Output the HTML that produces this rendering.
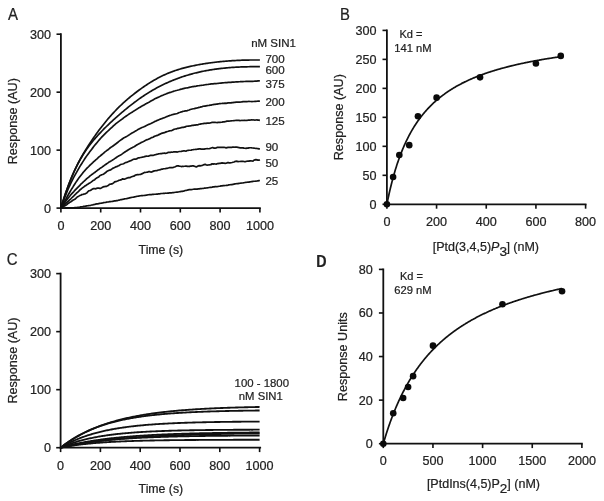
<!DOCTYPE html>
<html><head><meta charset="utf-8"><title>Figure</title>
<style>
html,body{margin:0;padding:0;background:#fff;}
body{width:604px;height:501px;overflow:hidden;font-family:"Liberation Sans",sans-serif;}
svg{display:block;filter:blur(0.35px);}
svg text{font-family:"Liberation Sans",sans-serif;}
</style></head><body>
<svg width="604" height="501" viewBox="0 0 604 501">
<rect width="604" height="501" fill="#fff"/>
<text transform="translate(8.00,20.00) scale(0.96,1)" font-size="15.6" fill="#222" stroke="#222" stroke-width="0.22">A</text>
<line x1="60.90" y1="33.30" x2="60.90" y2="209.00" stroke="#111" stroke-width="1.8"/>
<line x1="60.00" y1="208.10" x2="260.80" y2="208.10" stroke="#111" stroke-width="1.8"/>
<line x1="60.90" y1="208.10" x2="60.90" y2="212.50" stroke="#111" stroke-width="1.62"/>
<line x1="100.70" y1="208.10" x2="100.70" y2="212.50" stroke="#111" stroke-width="1.62"/>
<line x1="140.50" y1="208.10" x2="140.50" y2="212.50" stroke="#111" stroke-width="1.62"/>
<line x1="180.30" y1="208.10" x2="180.30" y2="212.50" stroke="#111" stroke-width="1.62"/>
<line x1="220.10" y1="208.10" x2="220.10" y2="212.50" stroke="#111" stroke-width="1.62"/>
<line x1="259.90" y1="208.10" x2="259.90" y2="212.50" stroke="#111" stroke-width="1.62"/>
<line x1="56.50" y1="208.10" x2="60.90" y2="208.10" stroke="#111" stroke-width="1.62"/>
<line x1="56.50" y1="150.13" x2="60.90" y2="150.13" stroke="#111" stroke-width="1.62"/>
<line x1="56.50" y1="92.17" x2="60.90" y2="92.17" stroke="#111" stroke-width="1.62"/>
<line x1="56.50" y1="34.20" x2="60.90" y2="34.20" stroke="#111" stroke-width="1.62"/>
<text x="60.90" y="230.20" font-size="12.6" text-anchor="middle" fill="#222" stroke="#222" stroke-width="0.22" >0</text>
<text x="100.70" y="230.20" font-size="12.6" text-anchor="middle" fill="#222" stroke="#222" stroke-width="0.22" >200</text>
<text x="140.50" y="230.20" font-size="12.6" text-anchor="middle" fill="#222" stroke="#222" stroke-width="0.22" >400</text>
<text x="180.30" y="230.20" font-size="12.6" text-anchor="middle" fill="#222" stroke="#222" stroke-width="0.22" >600</text>
<text x="220.10" y="230.20" font-size="12.6" text-anchor="middle" fill="#222" stroke="#222" stroke-width="0.22" >800</text>
<text x="259.90" y="230.20" font-size="12.6" text-anchor="middle" fill="#222" stroke="#222" stroke-width="0.22" >1000</text>
<text x="51.00" y="212.55" font-size="12.6" text-anchor="end" fill="#222" stroke="#222" stroke-width="0.22" >0</text>
<text x="51.00" y="154.58" font-size="12.6" text-anchor="end" fill="#222" stroke="#222" stroke-width="0.22" >100</text>
<text x="51.00" y="96.62" font-size="12.6" text-anchor="end" fill="#222" stroke="#222" stroke-width="0.22" >200</text>
<text x="51.00" y="38.65" font-size="12.6" text-anchor="end" fill="#222" stroke="#222" stroke-width="0.22" >300</text>
<text x="160.90" y="253.80" font-size="12.3" text-anchor="middle" fill="#222" stroke="#222" stroke-width="0.22" >Time (s)</text>
<text transform="translate(17.00,121.20) rotate(-90)" font-size="12.6" text-anchor="middle" fill="#222" stroke="#222" stroke-width="0.22">Response (AU)</text>
<path d="M60.90,208.10 L61.89,204.79 L62.89,201.58 L63.88,198.48 L64.88,195.47 L65.88,192.56 L66.87,189.74 L67.86,187.01 L68.86,184.36 L69.86,181.80 L70.85,179.32 L71.84,176.92 L72.84,174.59 L73.83,172.33 L74.83,170.14 L75.83,168.01 L76.82,165.95 L77.81,163.95 L78.81,162.00 L79.80,160.11 L80.80,158.26 L81.80,156.47 L82.79,154.72 L83.78,153.01 L84.78,151.34 L85.77,149.70 L86.77,148.10 L87.77,146.52 L88.76,144.97 L89.75,143.45 L90.75,141.95 L91.75,140.46 L92.74,139.00 L93.73,137.55 L94.73,136.13 L95.72,134.72 L96.72,133.34 L97.72,131.97 L98.71,130.62 L99.70,129.29 L100.70,127.98 L101.69,126.69 L102.69,125.42 L103.69,124.16 L104.68,122.92 L105.67,121.70 L106.67,120.50 L107.66,119.32 L108.66,118.15 L109.66,117.01 L110.65,115.87 L111.64,114.76 L112.64,113.67 L113.63,112.59 L114.63,111.52 L115.62,110.48 L116.62,109.45 L117.61,108.44 L118.61,107.44 L119.60,106.46 L120.60,105.50 L121.59,104.55 L122.59,103.62 L123.58,102.71 L124.58,101.80 L125.57,100.92 L126.57,100.04 L127.56,99.18 L128.56,98.34 L129.55,97.50 L130.55,96.68 L131.54,95.87 L132.54,95.08 L133.53,94.29 L134.53,93.52 L135.53,92.75 L136.52,92.00 L137.51,91.25 L138.51,90.52 L139.50,89.79 L140.50,89.07 L141.50,88.36 L142.49,87.66 L143.48,86.97 L144.48,86.29 L145.47,85.61 L146.47,84.95 L147.47,84.30 L148.46,83.65 L149.45,83.02 L150.45,82.40 L151.44,81.78 L152.44,81.18 L153.44,80.59 L154.43,80.01 L155.42,79.44 L156.42,78.89 L157.41,78.34 L158.41,77.81 L159.41,77.29 L160.40,76.78 L161.39,76.29 L162.39,75.80 L163.38,75.33 L164.38,74.88 L165.38,74.43 L166.37,73.99 L167.36,73.57 L168.36,73.15 L169.35,72.75 L170.35,72.36 L171.34,71.98 L172.34,71.61 L173.33,71.24 L174.33,70.89 L175.32,70.55 L176.32,70.22 L177.31,69.89 L178.31,69.58 L179.30,69.27 L180.30,68.97 L181.29,68.68 L182.29,68.40 L183.28,68.13 L184.28,67.86 L185.27,67.60 L186.27,67.35 L187.26,67.10 L188.26,66.86 L189.25,66.63 L190.25,66.40 L191.25,66.18 L192.24,65.97 L193.23,65.76 L194.23,65.56 L195.22,65.36 L196.22,65.17 L197.22,64.98 L198.21,64.79 L199.20,64.61 L200.20,64.44 L201.19,64.26 L202.19,64.10 L203.19,63.93 L204.18,63.77 L205.17,63.62 L206.17,63.46 L207.16,63.31 L208.16,63.17 L209.16,63.03 L210.15,62.89 L211.14,62.75 L212.14,62.62 L213.13,62.49 L214.13,62.37 L215.12,62.25 L216.12,62.13 L217.11,62.02 L218.11,61.91 L219.10,61.80 L220.10,61.70 L221.09,61.60 L222.09,61.50 L223.08,61.41 L224.08,61.32 L225.07,61.23 L226.07,61.15 L227.06,61.07 L228.06,60.99 L229.05,60.92 L230.05,60.84 L231.04,60.78 L232.04,60.71 L233.03,60.65 L234.03,60.59 L235.02,60.53 L236.02,60.48 L237.01,60.43 L238.01,60.38 L239.00,60.34 L240.00,60.29 L240.99,60.25 L241.99,60.22 L242.98,60.18 L243.98,60.15 L244.97,60.12 L245.97,60.10 L246.97,60.07 L247.96,60.05 L248.95,60.04 L249.95,60.02 L250.94,60.01 L251.94,60.00 L252.94,59.99 L253.93,59.98 L254.92,59.98 L255.92,59.98 L256.91,59.98 L257.91,59.98 L258.90,59.99 L259.90,60.00" fill="none" stroke="#111" stroke-width="1.7" stroke-linejoin="round" stroke-linecap="butt"/>
<path d="M60.90,208.10 L61.89,204.72 L62.89,201.45 L63.88,198.29 L64.88,195.23 L65.88,192.28 L66.87,189.42 L67.86,186.67 L68.86,184.01 L69.86,181.44 L70.85,178.95 L71.84,176.56 L72.84,174.25 L73.83,172.02 L74.83,169.86 L75.83,167.79 L76.82,165.78 L77.81,163.85 L78.81,161.98 L79.80,160.17 L80.80,158.43 L81.80,156.74 L82.79,155.11 L83.78,153.53 L84.78,152.01 L85.77,150.53 L86.77,149.09 L87.77,147.70 L88.76,146.34 L89.75,145.02 L90.75,143.74 L91.75,142.48 L92.74,141.26 L93.73,140.06 L94.73,138.89 L95.72,137.75 L96.72,136.62 L97.72,135.52 L98.71,134.43 L99.70,133.36 L100.70,132.31 L101.69,131.26 L102.69,130.24 L103.69,129.22 L104.68,128.22 L105.67,127.23 L106.67,126.25 L107.66,125.29 L108.66,124.33 L109.66,123.39 L110.65,122.45 L111.64,121.53 L112.64,120.61 L113.63,119.71 L114.63,118.81 L115.62,117.92 L116.62,117.04 L117.61,116.16 L118.61,115.29 L119.60,114.43 L120.60,113.57 L121.59,112.72 L122.59,111.88 L123.58,111.04 L124.58,110.21 L125.57,109.39 L126.57,108.57 L127.56,107.76 L128.56,106.96 L129.55,106.16 L130.55,105.37 L131.54,104.59 L132.54,103.82 L133.53,103.06 L134.53,102.30 L135.53,101.56 L136.52,100.82 L137.51,100.10 L138.51,99.38 L139.50,98.67 L140.50,97.97 L141.50,97.29 L142.49,96.61 L143.48,95.94 L144.48,95.28 L145.47,94.63 L146.47,93.99 L147.47,93.36 L148.46,92.74 L149.45,92.13 L150.45,91.53 L151.44,90.94 L152.44,90.36 L153.44,89.78 L154.43,89.22 L155.42,88.66 L156.42,88.12 L157.41,87.58 L158.41,87.05 L159.41,86.53 L160.40,86.02 L161.39,85.52 L162.39,85.02 L163.38,84.54 L164.38,84.06 L165.38,83.59 L166.37,83.13 L167.36,82.68 L168.36,82.23 L169.35,81.80 L170.35,81.37 L171.34,80.95 L172.34,80.54 L173.33,80.13 L174.33,79.73 L175.32,79.34 L176.32,78.96 L177.31,78.59 L178.31,78.22 L179.30,77.86 L180.30,77.51 L181.29,77.16 L182.29,76.82 L183.28,76.49 L184.28,76.17 L185.27,75.85 L186.27,75.54 L187.26,75.24 L188.26,74.94 L189.25,74.65 L190.25,74.36 L191.25,74.09 L192.24,73.82 L193.23,73.55 L194.23,73.29 L195.22,73.04 L196.22,72.80 L197.22,72.56 L198.21,72.32 L199.20,72.09 L200.20,71.87 L201.19,71.66 L202.19,71.45 L203.19,71.24 L204.18,71.04 L205.17,70.85 L206.17,70.66 L207.16,70.48 L208.16,70.30 L209.16,70.13 L210.15,69.96 L211.14,69.80 L212.14,69.64 L213.13,69.49 L214.13,69.34 L215.12,69.20 L216.12,69.06 L217.11,68.93 L218.11,68.80 L219.10,68.68 L220.10,68.56 L221.09,68.44 L222.09,68.33 L223.08,68.23 L224.08,68.13 L225.07,68.03 L226.07,67.93 L227.06,67.84 L228.06,67.76 L229.05,67.68 L230.05,67.60 L231.04,67.52 L232.04,67.45 L233.03,67.39 L234.03,67.32 L235.02,67.26 L236.02,67.20 L237.01,67.15 L238.01,67.10 L239.00,67.05 L240.00,67.01 L240.99,66.97 L241.99,66.93 L242.98,66.89 L243.98,66.86 L244.97,66.83 L245.97,66.80 L246.97,66.78 L247.96,66.76 L248.95,66.74 L249.95,66.72 L250.94,66.70 L251.94,66.69 L252.94,66.68 L253.93,66.67 L254.92,66.67 L255.92,66.66 L256.91,66.66 L257.91,66.66 L258.90,66.66 L259.90,66.66" fill="none" stroke="#111" stroke-width="1.7" stroke-linejoin="round" stroke-linecap="butt"/>
<path d="M60.90,208.10 L61.89,205.20 L62.89,202.41 L63.88,199.72 L64.88,197.09 L65.88,194.57 L66.87,192.12 L67.86,189.76 L68.86,187.49 L69.86,185.34 L70.85,183.22 L71.84,181.16 L72.84,179.18 L73.83,177.20 L74.83,175.36 L75.83,173.56 L76.82,171.85 L77.81,170.06 L78.81,168.30 L79.80,166.60 L80.80,164.98 L81.80,163.44 L82.79,161.86 L83.78,160.34 L84.78,158.84 L85.77,157.30 L86.77,155.87 L87.77,154.47 L88.76,153.14 L89.75,151.85 L90.75,150.52 L91.75,149.18 L92.74,147.87 L93.73,146.58 L94.73,145.32 L95.72,144.14 L96.72,142.93 L97.72,141.72 L98.71,140.54 L99.70,139.36 L100.70,138.24 L101.69,137.20 L102.69,136.12 L103.69,135.12 L104.68,134.14 L105.67,133.19 L106.67,132.21 L107.66,131.25 L108.66,130.27 L109.66,129.34 L110.65,128.44 L111.64,127.55 L112.64,126.64 L113.63,125.67 L114.63,124.80 L115.62,123.96 L116.62,123.14 L117.61,122.41 L118.61,121.65 L119.60,120.90 L120.60,120.09 L121.59,119.43 L122.59,118.71 L123.58,117.95 L124.58,117.15 L125.57,116.47 L126.57,115.78 L127.56,115.11 L128.56,114.39 L129.55,113.72 L130.55,113.12 L131.54,112.53 L132.54,111.91 L133.53,111.26 L134.53,110.62 L135.53,110.01 L136.52,109.35 L137.51,108.73 L138.51,108.12 L139.50,107.58 L140.50,106.93 L141.50,106.33 L142.49,105.78 L143.48,105.19 L144.48,104.66 L145.47,104.11 L146.47,103.54 L147.47,102.91 L148.46,102.43 L149.45,101.89 L150.45,101.31 L151.44,100.75 L152.44,100.20 L153.44,99.65 L154.43,99.11 L155.42,98.57 L156.42,98.15 L157.41,97.62 L158.41,97.15 L159.41,96.70 L160.40,96.26 L161.39,95.76 L162.39,95.42 L163.38,95.01 L164.38,94.55 L165.38,94.17 L166.37,93.79 L167.36,93.38 L168.36,93.00 L169.35,92.63 L170.35,92.33 L171.34,92.06 L172.34,91.74 L173.33,91.40 L174.33,91.04 L175.32,90.77 L176.32,90.46 L177.31,90.27 L178.31,90.00 L179.30,89.73 L180.30,89.41 L181.29,89.15 L182.29,88.93 L183.28,88.65 L184.28,88.41 L185.27,88.17 L186.27,88.03 L187.26,87.80 L188.26,87.59 L189.25,87.34 L190.25,87.13 L191.25,86.95 L192.24,86.71 L193.23,86.60 L194.23,86.42 L195.22,86.30 L196.22,86.16 L197.22,85.94 L198.21,85.73 L199.20,85.62 L200.20,85.47 L201.19,85.36 L202.19,85.25 L203.19,85.16 L204.18,84.98 L205.17,84.76 L206.17,84.62 L207.16,84.52 L208.16,84.44 L209.16,84.27 L210.15,84.09 L211.14,83.93 L212.14,83.80 L213.13,83.78 L214.13,83.69 L215.12,83.63 L216.12,83.61 L217.11,83.52 L218.11,83.38 L219.10,83.27 L220.10,83.17 L221.09,83.06 L222.09,82.92 L223.08,82.78 L224.08,82.76 L225.07,82.71 L226.07,82.66 L227.06,82.53 L228.06,82.44 L229.05,82.44 L230.05,82.36 L231.04,82.35 L232.04,82.20 L233.03,82.19 L234.03,82.08 L235.02,82.01 L236.02,81.95 L237.01,81.88 L238.01,81.80 L239.00,81.73 L240.00,81.69 L240.99,81.61 L241.99,81.56 L242.98,81.57 L243.98,81.48 L244.97,81.50 L245.97,81.40 L246.97,81.45 L247.96,81.44 L248.95,81.42 L249.95,81.31 L250.94,81.25 L251.94,81.29 L252.94,81.30 L253.93,81.24 L254.92,81.16 L255.92,81.10 L256.91,81.07 L257.91,80.96 L258.90,80.88 L259.90,80.77" fill="none" stroke="#111" stroke-width="1.7" stroke-linejoin="round" stroke-linecap="butt"/>
<path d="M60.90,208.10 L61.89,206.28 L62.89,204.46 L63.88,202.66 L64.88,200.84 L65.88,199.04 L66.87,197.26 L67.86,195.47 L68.86,193.74 L69.86,192.02 L70.85,190.35 L71.84,188.67 L72.84,187.16 L73.83,185.54 L74.83,183.94 L75.83,182.40 L76.82,180.94 L77.81,179.43 L78.81,178.11 L79.80,176.76 L80.80,175.45 L81.80,174.16 L82.79,172.91 L83.78,171.73 L84.78,170.63 L85.77,169.55 L86.77,168.43 L87.77,167.48 L88.76,166.47 L89.75,165.37 L90.75,164.50 L91.75,163.57 L92.74,162.69 L93.73,161.72 L94.73,160.80 L95.72,159.97 L96.72,159.10 L97.72,158.19 L98.71,157.21 L99.70,156.42 L100.70,155.53 L101.69,154.73 L102.69,153.91 L103.69,153.01 L104.68,152.09 L105.67,151.38 L106.67,150.60 L107.66,150.02 L108.66,149.17 L109.66,148.26 L110.65,147.53 L111.64,146.86 L112.64,146.18 L113.63,145.49 L114.63,144.80 L115.62,144.05 L116.62,143.25 L117.61,142.50 L118.61,141.63 L119.60,140.93 L120.60,140.19 L121.59,139.46 L122.59,138.71 L123.58,138.08 L124.58,137.58 L125.57,137.01 L126.57,136.46 L127.56,135.88 L128.56,135.25 L129.55,134.61 L130.55,133.90 L131.54,133.37 L132.54,132.84 L133.53,132.31 L134.53,131.61 L135.53,130.94 L136.52,130.42 L137.51,129.87 L138.51,129.35 L139.50,128.81 L140.50,128.24 L141.50,127.73 L142.49,127.30 L143.48,126.96 L144.48,126.49 L145.47,126.09 L146.47,125.56 L147.47,125.07 L148.46,124.56 L149.45,124.14 L150.45,123.77 L151.44,123.29 L152.44,122.70 L153.44,122.19 L154.43,121.65 L155.42,121.24 L156.42,120.84 L157.41,120.35 L158.41,119.91 L159.41,119.48 L160.40,119.08 L161.39,118.71 L162.39,118.35 L163.38,117.95 L164.38,117.60 L165.38,117.21 L166.37,116.76 L167.36,116.41 L168.36,115.93 L169.35,115.65 L170.35,115.24 L171.34,114.97 L172.34,114.56 L173.33,114.44 L174.33,114.20 L175.32,114.03 L176.32,113.74 L177.31,113.47 L178.31,112.92 L179.30,112.50 L180.30,112.22 L181.29,111.87 L182.29,111.66 L183.28,111.28 L184.28,111.12 L185.27,110.92 L186.27,110.85 L187.26,110.59 L188.26,110.27 L189.25,110.01 L190.25,109.56 L191.25,109.26 L192.24,108.98 L193.23,108.76 L194.23,108.59 L195.22,108.36 L196.22,108.11 L197.22,107.90 L198.21,107.63 L199.20,107.33 L200.20,107.10 L201.19,106.81 L202.19,106.56 L203.19,106.28 L204.18,106.16 L205.17,106.13 L206.17,105.80 L207.16,105.64 L208.16,105.47 L209.16,105.33 L210.15,105.15 L211.14,105.07 L212.14,104.74 L213.13,104.55 L214.13,104.43 L215.12,104.31 L216.12,104.20 L217.11,104.11 L218.11,103.90 L219.10,103.72 L220.10,103.66 L221.09,103.49 L222.09,103.43 L223.08,103.23 L224.08,103.29 L225.07,103.20 L226.07,103.34 L227.06,103.14 L228.06,102.94 L229.05,102.76 L230.05,102.85 L231.04,102.91 L232.04,102.64 L233.03,102.54 L234.03,102.37 L235.02,102.29 L236.02,102.22 L237.01,102.15 L238.01,102.13 L239.00,102.13 L240.00,102.05 L240.99,101.98 L241.99,101.79 L242.98,101.64 L243.98,101.70 L244.97,101.72 L245.97,101.67 L246.97,101.58 L247.96,101.48 L248.95,101.40 L249.95,101.48 L250.94,101.48 L251.94,101.57 L252.94,101.48 L253.93,101.48 L254.92,101.40 L255.92,101.34 L256.91,101.23 L257.91,101.19 L258.90,101.16 L259.90,101.10" fill="none" stroke="#111" stroke-width="1.7" stroke-linejoin="round" stroke-linecap="butt"/>
<path d="M60.90,208.10 L61.89,206.61 L62.89,205.18 L63.88,203.75 L64.88,202.39 L65.88,201.02 L66.87,199.67 L67.86,198.37 L68.86,197.22 L69.86,196.06 L70.85,194.77 L71.84,193.68 L72.84,192.57 L73.83,191.55 L74.83,190.44 L75.83,189.36 L76.82,188.32 L77.81,187.31 L78.81,186.37 L79.80,185.35 L80.80,184.18 L81.80,183.36 L82.79,182.44 L83.78,181.49 L84.78,180.52 L85.77,179.64 L86.77,178.70 L87.77,177.91 L88.76,177.13 L89.75,176.19 L90.75,175.35 L91.75,174.59 L92.74,173.98 L93.73,173.11 L94.73,172.49 L95.72,171.62 L96.72,170.97 L97.72,170.05 L98.71,169.47 L99.70,168.69 L100.70,167.94 L101.69,167.36 L102.69,166.57 L103.69,165.93 L104.68,165.13 L105.67,164.44 L106.67,163.73 L107.66,163.09 L108.66,162.30 L109.66,161.78 L110.65,161.19 L111.64,160.63 L112.64,159.96 L113.63,159.38 L114.63,158.61 L115.62,158.00 L116.62,157.30 L117.61,156.63 L118.61,155.94 L119.60,155.45 L120.60,154.99 L121.59,154.38 L122.59,153.67 L123.58,152.90 L124.58,152.20 L125.57,151.48 L126.57,150.94 L127.56,150.22 L128.56,149.66 L129.55,149.10 L130.55,148.46 L131.54,147.92 L132.54,147.38 L133.53,146.99 L134.53,146.53 L135.53,145.79 L136.52,145.06 L137.51,144.61 L138.51,144.07 L139.50,143.49 L140.50,142.93 L141.50,142.34 L142.49,142.00 L143.48,141.54 L144.48,141.03 L145.47,140.34 L146.47,139.91 L147.47,139.56 L148.46,139.30 L149.45,138.70 L150.45,138.38 L151.44,137.68 L152.44,137.51 L153.44,136.99 L154.43,136.33 L155.42,135.98 L156.42,135.66 L157.41,135.45 L158.41,134.87 L159.41,134.39 L160.40,133.88 L161.39,133.43 L162.39,133.16 L163.38,132.89 L164.38,132.71 L165.38,132.17 L166.37,131.86 L167.36,131.54 L168.36,131.24 L169.35,130.87 L170.35,130.73 L171.34,130.66 L172.34,130.23 L173.33,129.65 L174.33,129.27 L175.32,129.02 L176.32,128.91 L177.31,128.40 L178.31,128.37 L179.30,128.19 L180.30,128.03 L181.29,127.59 L182.29,127.36 L183.28,127.35 L184.28,127.12 L185.27,126.92 L186.27,126.33 L187.26,126.27 L188.26,126.00 L189.25,126.03 L190.25,125.84 L191.25,125.66 L192.24,125.43 L193.23,125.43 L194.23,125.20 L195.22,125.09 L196.22,124.92 L197.22,124.80 L198.21,124.58 L199.20,124.29 L200.20,124.07 L201.19,123.83 L202.19,123.75 L203.19,123.56 L204.18,123.38 L205.17,123.28 L206.17,123.37 L207.16,123.12 L208.16,123.06 L209.16,123.05 L210.15,122.92 L211.14,122.73 L212.14,122.29 L213.13,122.37 L214.13,122.35 L215.12,122.38 L216.12,122.50 L217.11,122.59 L218.11,122.43 L219.10,122.32 L220.10,122.37 L221.09,122.26 L222.09,122.12 L223.08,121.93 L224.08,121.95 L225.07,121.69 L226.07,121.43 L227.06,121.10 L228.06,121.03 L229.05,121.05 L230.05,120.98 L231.04,120.86 L232.04,120.75 L233.03,120.75 L234.03,120.60 L235.02,120.50 L236.02,120.44 L237.01,120.37 L238.01,120.39 L239.00,120.40 L240.00,120.56 L240.99,120.48 L241.99,120.46 L242.98,120.52 L243.98,120.38 L244.97,120.39 L245.97,120.52 L246.97,120.33 L247.96,120.20 L248.95,120.00 L249.95,120.06 L250.94,119.96 L251.94,119.78 L252.94,119.98 L253.93,119.96 L254.92,120.15 L255.92,120.03 L256.91,119.92 L257.91,120.05 L258.90,120.13 L259.90,120.29" fill="none" stroke="#111" stroke-width="1.7" stroke-linejoin="round" stroke-linecap="butt"/>
<path d="M60.90,208.10 L61.89,207.17 L62.89,206.23 L63.88,205.30 L64.88,204.31 L65.88,203.33 L66.87,202.49 L67.86,201.57 L68.86,200.65 L69.86,199.69 L70.85,198.77 L71.84,197.75 L72.84,196.79 L73.83,195.90 L74.83,194.84 L75.83,193.94 L76.82,192.93 L77.81,192.06 L78.81,191.21 L79.80,189.92 L80.80,189.25 L81.80,188.42 L82.79,187.69 L83.78,186.97 L84.78,186.10 L85.77,185.63 L86.77,184.78 L87.77,184.19 L88.76,183.54 L89.75,183.02 L90.75,182.37 L91.75,181.57 L92.74,180.80 L93.73,180.15 L94.73,179.63 L95.72,178.65 L96.72,178.03 L97.72,177.38 L98.71,176.93 L99.70,175.77 L100.70,175.34 L101.69,174.74 L102.69,174.48 L103.69,173.93 L104.68,173.27 L105.67,172.55 L106.67,171.53 L107.66,171.02 L108.66,170.54 L109.66,170.12 L110.65,169.82 L111.64,169.17 L112.64,168.37 L113.63,167.89 L114.63,167.40 L115.62,166.94 L116.62,166.65 L117.61,166.13 L118.61,165.79 L119.60,165.18 L120.60,164.46 L121.59,164.26 L122.59,164.04 L123.58,163.74 L124.58,163.11 L125.57,162.49 L126.57,162.35 L127.56,161.94 L128.56,161.55 L129.55,161.15 L130.55,160.76 L131.54,160.36 L132.54,159.73 L133.53,159.29 L134.53,159.06 L135.53,159.14 L136.52,158.94 L137.51,158.23 L138.51,157.78 L139.50,157.80 L140.50,157.51 L141.50,157.30 L142.49,157.04 L143.48,156.98 L144.48,156.69 L145.47,156.39 L146.47,156.18 L147.47,156.26 L148.46,156.20 L149.45,155.75 L150.45,155.35 L151.44,155.22 L152.44,155.34 L153.44,155.29 L154.43,154.93 L155.42,154.76 L156.42,154.42 L157.41,154.21 L158.41,153.91 L159.41,153.76 L160.40,153.63 L161.39,153.69 L162.39,153.29 L163.38,153.29 L164.38,153.09 L165.38,153.37 L166.37,153.16 L167.36,152.83 L168.36,152.40 L169.35,152.38 L170.35,152.30 L171.34,152.14 L172.34,152.25 L173.33,151.94 L174.33,151.95 L175.32,151.86 L176.32,151.88 L177.31,152.06 L178.31,151.72 L179.30,151.49 L180.30,151.52 L181.29,151.38 L182.29,151.15 L183.28,150.96 L184.28,150.90 L185.27,151.03 L186.27,151.03 L187.26,150.54 L188.26,150.34 L189.25,150.24 L190.25,150.23 L191.25,150.14 L192.24,149.73 L193.23,149.70 L194.23,149.52 L195.22,149.47 L196.22,149.39 L197.22,149.22 L198.21,149.12 L199.20,148.78 L200.20,148.84 L201.19,149.06 L202.19,149.14 L203.19,149.13 L204.18,149.06 L205.17,148.84 L206.17,148.77 L207.16,148.65 L208.16,148.73 L209.16,148.69 L210.15,148.46 L211.14,148.08 L212.14,147.71 L213.13,147.70 L214.13,148.19 L215.12,148.12 L216.12,147.89 L217.11,147.42 L218.11,147.44 L219.10,147.41 L220.10,147.29 L221.09,147.40 L222.09,147.27 L223.08,147.31 L224.08,147.27 L225.07,147.53 L226.07,147.88 L227.06,147.57 L228.06,147.40 L229.05,147.29 L230.05,147.44 L231.04,147.32 L232.04,147.33 L233.03,146.93 L234.03,147.28 L235.02,147.16 L236.02,147.17 L237.01,147.15 L238.01,147.45 L239.00,147.55 L240.00,147.82 L240.99,147.80 L241.99,147.75 L242.98,147.83 L243.98,148.16 L244.97,148.24 L245.97,148.34 L246.97,148.06 L247.96,148.18 L248.95,147.88 L249.95,147.75 L250.94,147.76 L251.94,147.91 L252.94,147.98 L253.93,148.11 L254.92,148.26 L255.92,148.51 L256.91,148.47 L257.91,148.64 L258.90,148.80 L259.90,149.10" fill="none" stroke="#111" stroke-width="1.7" stroke-linejoin="round" stroke-linecap="butt"/>
<path d="M60.90,208.10 L61.89,207.52 L62.89,206.92 L63.88,206.36 L64.88,205.83 L65.88,205.20 L66.87,204.63 L67.86,203.67 L68.86,202.95 L69.86,202.33 L70.85,201.70 L71.84,201.01 L72.84,200.25 L73.83,199.72 L74.83,199.27 L75.83,198.38 L76.82,197.42 L77.81,196.69 L78.81,196.13 L79.80,195.51 L80.80,195.26 L81.80,194.55 L82.79,194.48 L83.78,194.18 L84.78,194.03 L85.77,193.43 L86.77,193.04 L87.77,191.79 L88.76,190.77 L89.75,190.59 L90.75,190.24 L91.75,189.39 L92.74,188.91 L93.73,188.59 L94.73,188.69 L95.72,188.85 L96.72,188.37 L97.72,188.03 L98.71,188.05 L99.70,188.41 L100.70,188.39 L101.69,187.81 L102.69,187.12 L103.69,186.70 L104.68,186.58 L105.67,186.42 L106.67,186.40 L107.66,185.68 L108.66,185.17 L109.66,184.23 L110.65,184.22 L111.64,183.88 L112.64,183.57 L113.63,182.88 L114.63,181.92 L115.62,181.58 L116.62,181.34 L117.61,180.91 L118.61,180.39 L119.60,180.28 L120.60,179.88 L121.59,179.58 L122.59,178.75 L123.58,179.10 L124.58,179.07 L125.57,178.78 L126.57,178.20 L127.56,177.92 L128.56,177.58 L129.55,177.68 L130.55,177.33 L131.54,176.82 L132.54,176.48 L133.53,176.15 L134.53,175.94 L135.53,174.99 L136.52,174.79 L137.51,174.63 L138.51,174.72 L139.50,174.52 L140.50,174.41 L141.50,173.90 L142.49,173.63 L143.48,172.96 L144.48,172.47 L145.47,172.50 L146.47,172.27 L147.47,172.16 L148.46,171.66 L149.45,171.63 L150.45,171.87 L151.44,172.07 L152.44,171.62 L153.44,171.14 L154.43,170.87 L155.42,170.72 L156.42,170.74 L157.41,170.43 L158.41,169.98 L159.41,169.86 L160.40,169.71 L161.39,169.20 L162.39,169.27 L163.38,168.74 L164.38,168.76 L165.38,168.63 L166.37,168.43 L167.36,168.30 L168.36,168.00 L169.35,167.71 L170.35,167.54 L171.34,167.56 L172.34,167.56 L173.33,167.49 L174.33,167.01 L175.32,166.73 L176.32,166.13 L177.31,165.96 L178.31,165.87 L179.30,166.12 L180.30,166.25 L181.29,166.55 L182.29,166.45 L183.28,166.47 L184.28,166.23 L185.27,166.12 L186.27,165.98 L187.26,166.42 L188.26,166.29 L189.25,166.55 L190.25,166.15 L191.25,166.04 L192.24,165.91 L193.23,165.95 L194.23,166.19 L195.22,166.55 L196.22,166.98 L197.22,166.41 L198.21,166.02 L199.20,165.64 L200.20,165.85 L201.19,165.65 L202.19,165.51 L203.19,165.04 L204.18,164.59 L205.17,164.31 L206.17,164.72 L207.16,165.10 L208.16,164.98 L209.16,164.79 L210.15,164.70 L211.14,164.54 L212.14,163.79 L213.13,164.14 L214.13,163.86 L215.12,163.99 L216.12,164.10 L217.11,163.69 L218.11,163.61 L219.10,163.43 L220.10,163.34 L221.09,163.15 L222.09,162.95 L223.08,163.09 L224.08,163.05 L225.07,163.44 L226.07,163.18 L227.06,162.87 L228.06,162.45 L229.05,162.92 L230.05,162.81 L231.04,162.74 L232.04,162.50 L233.03,162.22 L234.03,162.00 L235.02,161.46 L236.02,161.37 L237.01,161.21 L238.01,161.63 L239.00,161.50 L240.00,161.51 L240.99,161.35 L241.99,161.38 L242.98,161.37 L243.98,161.48 L244.97,161.80 L245.97,161.42 L246.97,161.28 L247.96,161.08 L248.95,161.09 L249.95,160.84 L250.94,160.85 L251.94,160.99 L252.94,161.03 L253.93,160.21 L254.92,159.87 L255.92,159.66 L256.91,159.84 L257.91,160.15 L258.90,160.18 L259.90,159.72" fill="none" stroke="#111" stroke-width="1.7" stroke-linejoin="round" stroke-linecap="butt"/>
<path d="M60.90,208.10 L61.89,208.08 L62.89,208.06 L63.88,208.04 L64.88,208.02 L65.88,207.96 L66.87,207.95 L67.86,207.92 L68.86,207.85 L69.86,207.85 L70.85,207.89 L71.84,207.94 L72.84,207.88 L73.83,207.79 L74.83,207.70 L75.83,207.59 L76.82,207.51 L77.81,207.37 L78.81,207.28 L79.80,207.12 L80.80,206.86 L81.80,206.74 L82.79,206.64 L83.78,206.45 L84.78,206.27 L85.77,206.08 L86.77,205.89 L87.77,205.74 L88.76,205.61 L89.75,205.48 L90.75,205.30 L91.75,205.00 L92.74,204.82 L93.73,204.54 L94.73,204.44 L95.72,204.16 L96.72,203.95 L97.72,203.83 L98.71,203.60 L99.70,203.43 L100.70,203.26 L101.69,203.10 L102.69,202.92 L103.69,202.70 L104.68,202.53 L105.67,202.36 L106.67,202.14 L107.66,201.98 L108.66,201.82 L109.66,201.62 L110.65,201.57 L111.64,201.50 L112.64,201.32 L113.63,201.12 L114.63,200.93 L115.62,200.88 L116.62,200.59 L117.61,200.53 L118.61,200.19 L119.60,200.04 L120.60,199.69 L121.59,199.56 L122.59,199.30 L123.58,199.14 L124.58,198.90 L125.57,198.74 L126.57,198.65 L127.56,198.38 L128.56,198.17 L129.55,197.88 L130.55,197.62 L131.54,197.46 L132.54,197.27 L133.53,197.08 L134.53,196.85 L135.53,196.67 L136.52,196.46 L137.51,196.28 L138.51,196.09 L139.50,195.96 L140.50,195.77 L141.50,195.63 L142.49,195.54 L143.48,195.48 L144.48,195.43 L145.47,195.30 L146.47,195.05 L147.47,194.92 L148.46,194.74 L149.45,194.60 L150.45,194.54 L151.44,194.54 L152.44,194.44 L153.44,194.37 L154.43,194.24 L155.42,194.27 L156.42,194.12 L157.41,194.04 L158.41,193.93 L159.41,193.84 L160.40,193.70 L161.39,193.48 L162.39,193.52 L163.38,193.41 L164.38,193.33 L165.38,193.22 L166.37,193.23 L167.36,193.17 L168.36,193.10 L169.35,192.91 L170.35,192.84 L171.34,192.79 L172.34,192.68 L173.33,192.54 L174.33,192.48 L175.32,192.23 L176.32,192.21 L177.31,192.08 L178.31,192.01 L179.30,191.75 L180.30,191.54 L181.29,191.38 L182.29,191.33 L183.28,191.09 L184.28,190.84 L185.27,190.53 L186.27,190.30 L187.26,190.15 L188.26,189.91 L189.25,189.69 L190.25,189.65 L191.25,189.61 L192.24,189.51 L193.23,189.28 L194.23,189.15 L195.22,189.08 L196.22,189.07 L197.22,189.10 L198.21,188.90 L199.20,188.81 L200.20,188.64 L201.19,188.63 L202.19,188.51 L203.19,188.47 L204.18,188.21 L205.17,188.05 L206.17,188.00 L207.16,187.86 L208.16,187.75 L209.16,187.50 L210.15,187.37 L211.14,187.28 L212.14,187.17 L213.13,186.93 L214.13,186.81 L215.12,186.64 L216.12,186.72 L217.11,186.55 L218.11,186.52 L219.10,186.27 L220.10,186.12 L221.09,185.92 L222.09,185.82 L223.08,185.69 L224.08,185.59 L225.07,185.50 L226.07,185.44 L227.06,185.30 L228.06,185.16 L229.05,184.82 L230.05,184.77 L231.04,184.68 L232.04,184.59 L233.03,184.30 L234.03,184.11 L235.02,183.91 L236.02,183.75 L237.01,183.65 L238.01,183.57 L239.00,183.41 L240.00,183.25 L240.99,183.08 L241.99,183.02 L242.98,182.90 L243.98,182.75 L244.97,182.52 L245.97,182.33 L246.97,182.26 L247.96,182.13 L248.95,182.05 L249.95,181.85 L250.94,181.71 L251.94,181.54 L252.94,181.37 L253.93,181.26 L254.92,181.27 L255.92,181.22 L256.91,181.01 L257.91,180.80 L258.90,180.63 L259.90,180.51" fill="none" stroke="#111" stroke-width="1.7" stroke-linejoin="round" stroke-linecap="butt"/>
<text x="251.20" y="46.60" font-size="11.5" text-anchor="start" fill="#222" stroke="#222" stroke-width="0.22" >nM SIN1</text>
<text x="265.40" y="62.90" font-size="11.6" text-anchor="start" fill="#222" stroke="#222" stroke-width="0.22" >700</text>
<text x="265.40" y="74.20" font-size="11.6" text-anchor="start" fill="#222" stroke="#222" stroke-width="0.22" >600</text>
<text x="265.40" y="88.30" font-size="11.6" text-anchor="start" fill="#222" stroke="#222" stroke-width="0.22" >375</text>
<text x="265.40" y="106.00" font-size="11.6" text-anchor="start" fill="#222" stroke="#222" stroke-width="0.22" >200</text>
<text x="265.40" y="125.40" font-size="11.6" text-anchor="start" fill="#222" stroke="#222" stroke-width="0.22" >125</text>
<text x="265.40" y="150.80" font-size="11.6" text-anchor="start" fill="#222" stroke="#222" stroke-width="0.22" >90</text>
<text x="265.40" y="166.70" font-size="11.6" text-anchor="start" fill="#222" stroke="#222" stroke-width="0.22" >50</text>
<text x="265.40" y="184.80" font-size="11.6" text-anchor="start" fill="#222" stroke="#222" stroke-width="0.22" >25</text>
<text transform="translate(6.75,264.80) scale(0.94,1)" font-size="16" fill="#222" stroke="#222" stroke-width="0.22">C</text>
<line x1="60.60" y1="272.70" x2="60.60" y2="448.60" stroke="#111" stroke-width="1.8"/>
<line x1="59.70" y1="447.70" x2="261.10" y2="447.70" stroke="#111" stroke-width="1.8"/>
<line x1="60.60" y1="447.70" x2="60.60" y2="452.10" stroke="#111" stroke-width="1.62"/>
<line x1="100.40" y1="447.70" x2="100.40" y2="452.10" stroke="#111" stroke-width="1.62"/>
<line x1="140.20" y1="447.70" x2="140.20" y2="452.10" stroke="#111" stroke-width="1.62"/>
<line x1="180.00" y1="447.70" x2="180.00" y2="452.10" stroke="#111" stroke-width="1.62"/>
<line x1="219.80" y1="447.70" x2="219.80" y2="452.10" stroke="#111" stroke-width="1.62"/>
<line x1="259.60" y1="447.70" x2="259.60" y2="452.10" stroke="#111" stroke-width="1.62"/>
<line x1="56.20" y1="447.70" x2="60.60" y2="447.70" stroke="#111" stroke-width="1.62"/>
<line x1="56.20" y1="389.67" x2="60.60" y2="389.67" stroke="#111" stroke-width="1.62"/>
<line x1="56.20" y1="331.63" x2="60.60" y2="331.63" stroke="#111" stroke-width="1.62"/>
<line x1="56.20" y1="273.60" x2="60.60" y2="273.60" stroke="#111" stroke-width="1.62"/>
<text x="60.60" y="469.90" font-size="12.6" text-anchor="middle" fill="#222" stroke="#222" stroke-width="0.22" >0</text>
<text x="100.40" y="469.90" font-size="12.6" text-anchor="middle" fill="#222" stroke="#222" stroke-width="0.22" >200</text>
<text x="140.20" y="469.90" font-size="12.6" text-anchor="middle" fill="#222" stroke="#222" stroke-width="0.22" >400</text>
<text x="180.00" y="469.90" font-size="12.6" text-anchor="middle" fill="#222" stroke="#222" stroke-width="0.22" >600</text>
<text x="219.80" y="469.90" font-size="12.6" text-anchor="middle" fill="#222" stroke="#222" stroke-width="0.22" >800</text>
<text x="259.60" y="469.90" font-size="12.6" text-anchor="middle" fill="#222" stroke="#222" stroke-width="0.22" >1000</text>
<text x="51.00" y="452.15" font-size="12.6" text-anchor="end" fill="#222" stroke="#222" stroke-width="0.22" >0</text>
<text x="51.00" y="394.12" font-size="12.6" text-anchor="end" fill="#222" stroke="#222" stroke-width="0.22" >100</text>
<text x="51.00" y="336.08" font-size="12.6" text-anchor="end" fill="#222" stroke="#222" stroke-width="0.22" >200</text>
<text x="51.00" y="278.05" font-size="12.6" text-anchor="end" fill="#222" stroke="#222" stroke-width="0.22" >300</text>
<text x="160.90" y="492.90" font-size="12.3" text-anchor="middle" fill="#222" stroke="#222" stroke-width="0.22" >Time (s)</text>
<text transform="translate(17.20,360.50) rotate(-90)" font-size="12.6" text-anchor="middle" fill="#222" stroke="#222" stroke-width="0.22">Response (AU)</text>
<path d="M60.60,447.70 L61.59,446.93 L62.59,446.18 L63.59,445.44 L64.58,444.72 L65.58,444.01 L66.57,443.31 L67.56,442.62 L68.56,441.95 L69.56,441.29 L70.55,440.64 L71.55,440.01 L72.54,439.38 L73.53,438.77 L74.53,438.17 L75.53,437.57 L76.52,436.99 L77.52,436.42 L78.51,435.87 L79.50,435.32 L80.50,434.78 L81.50,434.25 L82.49,433.73 L83.48,433.22 L84.48,432.72 L85.47,432.23 L86.47,431.75 L87.47,431.27 L88.46,430.81 L89.45,430.35 L90.45,429.90 L91.44,429.46 L92.44,429.03 L93.44,428.61 L94.43,428.19 L95.42,427.78 L96.42,427.38 L97.41,426.99 L98.41,426.60 L99.41,426.22 L100.40,425.85 L101.39,425.49 L102.39,425.13 L103.38,424.78 L104.38,424.43 L105.38,424.09 L106.37,423.76 L107.36,423.43 L108.36,423.11 L109.35,422.79 L110.35,422.48 L111.34,422.18 L112.34,421.88 L113.33,421.59 L114.33,421.30 L115.32,421.02 L116.32,420.74 L117.31,420.47 L118.31,420.21 L119.31,419.94 L120.30,419.69 L121.29,419.43 L122.29,419.19 L123.28,418.94 L124.28,418.70 L125.28,418.47 L126.27,418.24 L127.26,418.01 L128.26,417.79 L129.25,417.57 L130.25,417.36 L131.25,417.15 L132.24,416.94 L133.23,416.74 L134.23,416.54 L135.22,416.35 L136.22,416.16 L137.22,415.97 L138.21,415.79 L139.20,415.61 L140.20,415.43 L141.19,415.25 L142.19,415.08 L143.19,414.91 L144.18,414.75 L145.17,414.59 L146.17,414.43 L147.16,414.27 L148.16,414.12 L149.16,413.97 L150.15,413.82 L151.14,413.68 L152.14,413.53 L153.13,413.39 L154.13,413.26 L155.12,413.12 L156.12,412.99 L157.11,412.86 L158.11,412.73 L159.10,412.61 L160.10,412.49 L161.09,412.37 L162.09,412.25 L163.08,412.13 L164.08,412.02 L165.07,411.91 L166.07,411.80 L167.06,411.69 L168.06,411.58 L169.05,411.48 L170.05,411.38 L171.04,411.28 L172.04,411.18 L173.03,411.08 L174.03,410.99 L175.02,410.89 L176.02,410.80 L177.01,410.71 L178.01,410.63 L179.00,410.54 L180.00,410.45 L181.00,410.37 L181.99,410.29 L182.98,410.21 L183.98,410.13 L184.97,410.05 L185.97,409.98 L186.97,409.90 L187.96,409.83 L188.95,409.76 L189.95,409.69 L190.94,409.62 L191.94,409.55 L192.93,409.48 L193.93,409.42 L194.92,409.35 L195.92,409.29 L196.91,409.23 L197.91,409.17 L198.90,409.11 L199.90,409.05 L200.89,408.99 L201.89,408.94 L202.88,408.88 L203.88,408.83 L204.87,408.77 L205.87,408.72 L206.86,408.67 L207.86,408.62 L208.85,408.57 L209.85,408.52 L210.84,408.47 L211.84,408.43 L212.83,408.38 L213.83,408.34 L214.82,408.29 L215.82,408.25 L216.81,408.20 L217.81,408.16 L218.80,408.12 L219.80,408.08 L220.79,408.04 L221.79,408.00 L222.78,407.96 L223.78,407.93 L224.77,407.89 L225.77,407.85 L226.76,407.82 L227.76,407.78 L228.75,407.75 L229.75,407.72 L230.74,407.68 L231.74,407.65 L232.73,407.62 L233.73,407.59 L234.72,407.56 L235.72,407.53 L236.71,407.50 L237.71,407.47 L238.70,407.44 L239.70,407.41 L240.69,407.38 L241.69,407.36 L242.68,407.33 L243.68,407.30 L244.67,407.28 L245.67,407.25 L246.66,407.23 L247.66,407.21 L248.65,407.18 L249.65,407.16 L250.64,407.14 L251.64,407.11 L252.63,407.09 L253.63,407.07 L254.62,407.05 L255.62,407.03 L256.62,407.01 L257.61,406.99 L258.61,406.97 L259.60,406.95" fill="none" stroke="#111" stroke-width="1.85" stroke-linejoin="round" stroke-linecap="butt"/>
<path d="M60.60,447.70 L61.59,446.90 L62.59,446.11 L63.59,445.34 L64.58,444.59 L65.58,443.86 L66.57,443.13 L67.56,442.43 L68.56,441.74 L69.56,441.06 L70.55,440.40 L71.55,439.76 L72.54,439.12 L73.53,438.50 L74.53,437.90 L75.53,437.30 L76.52,436.72 L77.52,436.15 L78.51,435.59 L79.50,435.05 L80.50,434.52 L81.50,433.99 L82.49,433.48 L83.48,432.98 L84.48,432.49 L85.47,432.02 L86.47,431.55 L87.47,431.09 L88.46,430.64 L89.45,430.20 L90.45,429.77 L91.44,429.35 L92.44,428.94 L93.44,428.53 L94.43,428.14 L95.42,427.75 L96.42,427.37 L97.41,427.00 L98.41,426.64 L99.41,426.29 L100.40,425.94 L101.39,425.60 L102.39,425.27 L103.38,424.94 L104.38,424.63 L105.38,424.31 L106.37,424.01 L107.36,423.71 L108.36,423.42 L109.35,423.13 L110.35,422.85 L111.34,422.58 L112.34,422.31 L113.33,422.05 L114.33,421.79 L115.32,421.54 L116.32,421.29 L117.31,421.05 L118.31,420.82 L119.31,420.59 L120.30,420.36 L121.29,420.14 L122.29,419.92 L123.28,419.71 L124.28,419.51 L125.28,419.30 L126.27,419.11 L127.26,418.91 L128.26,418.72 L129.25,418.54 L130.25,418.35 L131.25,418.18 L132.24,418.00 L133.23,417.83 L134.23,417.66 L135.22,417.50 L136.22,417.34 L137.22,417.18 L138.21,417.03 L139.20,416.88 L140.20,416.73 L141.19,416.59 L142.19,416.45 L143.19,416.31 L144.18,416.18 L145.17,416.04 L146.17,415.92 L147.16,415.79 L148.16,415.67 L149.16,415.54 L150.15,415.43 L151.14,415.31 L152.14,415.20 L153.13,415.09 L154.13,414.98 L155.12,414.87 L156.12,414.77 L157.11,414.67 L158.11,414.57 L159.10,414.47 L160.10,414.37 L161.09,414.28 L162.09,414.19 L163.08,414.10 L164.08,414.01 L165.07,413.92 L166.07,413.84 L167.06,413.76 L168.06,413.68 L169.05,413.60 L170.05,413.52 L171.04,413.45 L172.04,413.37 L173.03,413.30 L174.03,413.23 L175.02,413.16 L176.02,413.09 L177.01,413.03 L178.01,412.96 L179.00,412.90 L180.00,412.84 L181.00,412.78 L181.99,412.72 L182.98,412.66 L183.98,412.60 L184.97,412.55 L185.97,412.49 L186.97,412.44 L187.96,412.38 L188.95,412.33 L189.95,412.28 L190.94,412.23 L191.94,412.19 L192.93,412.14 L193.93,412.09 L194.92,412.05 L195.92,412.00 L196.91,411.96 L197.91,411.92 L198.90,411.88 L199.90,411.84 L200.89,411.80 L201.89,411.76 L202.88,411.72 L203.88,411.68 L204.87,411.65 L205.87,411.61 L206.86,411.58 L207.86,411.54 L208.85,411.51 L209.85,411.48 L210.84,411.45 L211.84,411.41 L212.83,411.38 L213.83,411.35 L214.82,411.33 L215.82,411.30 L216.81,411.27 L217.81,411.24 L218.80,411.21 L219.80,411.19 L220.79,411.16 L221.79,411.14 L222.78,411.11 L223.78,411.09 L224.77,411.06 L225.77,411.04 L226.76,411.02 L227.76,411.00 L228.75,410.98 L229.75,410.95 L230.74,410.93 L231.74,410.91 L232.73,410.89 L233.73,410.87 L234.72,410.85 L235.72,410.84 L236.71,410.82 L237.71,410.80 L238.70,410.78 L239.70,410.77 L240.69,410.75 L241.69,410.73 L242.68,410.72 L243.68,410.70 L244.67,410.68 L245.67,410.67 L246.66,410.66 L247.66,410.64 L248.65,410.63 L249.65,410.61 L250.64,410.60 L251.64,410.59 L252.63,410.57 L253.63,410.56 L254.62,410.55 L255.62,410.54 L256.62,410.52 L257.61,410.51 L258.61,410.50 L259.60,410.49" fill="none" stroke="#111" stroke-width="1.85" stroke-linejoin="round" stroke-linecap="butt"/>
<path d="M60.60,447.70 L61.59,447.10 L62.59,446.51 L63.59,445.94 L64.58,445.38 L65.58,444.83 L66.57,444.30 L67.56,443.77 L68.56,443.26 L69.56,442.76 L70.55,442.27 L71.55,441.80 L72.54,441.33 L73.53,440.88 L74.53,440.43 L75.53,440.00 L76.52,439.57 L77.52,439.15 L78.51,438.75 L79.50,438.35 L80.50,437.96 L81.50,437.58 L82.49,437.21 L83.48,436.85 L84.48,436.50 L85.47,436.15 L86.47,435.82 L87.47,435.49 L88.46,435.16 L89.45,434.85 L90.45,434.54 L91.44,434.24 L92.44,433.94 L93.44,433.66 L94.43,433.37 L95.42,433.10 L96.42,432.83 L97.41,432.57 L98.41,432.31 L99.41,432.06 L100.40,431.82 L101.39,431.58 L102.39,431.34 L103.38,431.12 L104.38,430.89 L105.38,430.67 L106.37,430.46 L107.36,430.25 L108.36,430.05 L109.35,429.85 L110.35,429.66 L111.34,429.47 L112.34,429.28 L113.33,429.10 L114.33,428.92 L115.32,428.75 L116.32,428.58 L117.31,428.41 L118.31,428.25 L119.31,428.09 L120.30,427.94 L121.29,427.79 L122.29,427.64 L123.28,427.49 L124.28,427.35 L125.28,427.22 L126.27,427.08 L127.26,426.95 L128.26,426.82 L129.25,426.70 L130.25,426.57 L131.25,426.45 L132.24,426.34 L133.23,426.22 L134.23,426.11 L135.22,426.00 L136.22,425.89 L137.22,425.79 L138.21,425.69 L139.20,425.59 L140.20,425.49 L141.19,425.39 L142.19,425.30 L143.19,425.21 L144.18,425.12 L145.17,425.03 L146.17,424.95 L147.16,424.86 L148.16,424.78 L149.16,424.70 L150.15,424.63 L151.14,424.55 L152.14,424.48 L153.13,424.40 L154.13,424.33 L155.12,424.26 L156.12,424.20 L157.11,424.13 L158.11,424.07 L159.10,424.00 L160.10,423.94 L161.09,423.88 L162.09,423.82 L163.08,423.77 L164.08,423.71 L165.07,423.65 L166.07,423.60 L167.06,423.55 L168.06,423.50 L169.05,423.45 L170.05,423.40 L171.04,423.35 L172.04,423.30 L173.03,423.26 L174.03,423.21 L175.02,423.17 L176.02,423.13 L177.01,423.09 L178.01,423.04 L179.00,423.00 L180.00,422.97 L181.00,422.93 L181.99,422.89 L182.98,422.85 L183.98,422.82 L184.97,422.78 L185.97,422.75 L186.97,422.72 L187.96,422.69 L188.95,422.65 L189.95,422.62 L190.94,422.59 L191.94,422.56 L192.93,422.53 L193.93,422.51 L194.92,422.48 L195.92,422.45 L196.91,422.43 L197.91,422.40 L198.90,422.37 L199.90,422.35 L200.89,422.33 L201.89,422.30 L202.88,422.28 L203.88,422.26 L204.87,422.24 L205.87,422.21 L206.86,422.19 L207.86,422.17 L208.85,422.15 L209.85,422.13 L210.84,422.11 L211.84,422.10 L212.83,422.08 L213.83,422.06 L214.82,422.04 L215.82,422.03 L216.81,422.01 L217.81,421.99 L218.80,421.98 L219.80,421.96 L220.79,421.95 L221.79,421.93 L222.78,421.92 L223.78,421.90 L224.77,421.89 L225.77,421.87 L226.76,421.86 L227.76,421.85 L228.75,421.84 L229.75,421.82 L230.74,421.81 L231.74,421.80 L232.73,421.79 L233.73,421.78 L234.72,421.77 L235.72,421.76 L236.71,421.75 L237.71,421.74 L238.70,421.73 L239.70,421.72 L240.69,421.71 L241.69,421.70 L242.68,421.69 L243.68,421.68 L244.67,421.67 L245.67,421.66 L246.66,421.65 L247.66,421.64 L248.65,421.64 L249.65,421.63 L250.64,421.62 L251.64,421.61 L252.63,421.61 L253.63,421.60 L254.62,421.59 L255.62,421.59 L256.62,421.58 L257.61,421.57 L258.61,421.57 L259.60,421.56" fill="none" stroke="#111" stroke-width="1.85" stroke-linejoin="round" stroke-linecap="butt"/>
<path d="M60.60,447.70 L61.59,447.26 L62.59,446.83 L63.59,446.41 L64.58,446.00 L65.58,445.61 L66.57,445.22 L67.56,444.84 L68.56,444.47 L69.56,444.11 L70.55,443.75 L71.55,443.41 L72.54,443.07 L73.53,442.75 L74.53,442.43 L75.53,442.11 L76.52,441.81 L77.52,441.51 L78.51,441.22 L79.50,440.94 L80.50,440.66 L81.50,440.39 L82.49,440.13 L83.48,439.88 L84.48,439.62 L85.47,439.38 L86.47,439.14 L87.47,438.91 L88.46,438.68 L89.45,438.46 L90.45,438.25 L91.44,438.03 L92.44,437.83 L93.44,437.63 L94.43,437.43 L95.42,437.24 L96.42,437.05 L97.41,436.87 L98.41,436.70 L99.41,436.52 L100.40,436.35 L101.39,436.19 L102.39,436.03 L103.38,435.87 L104.38,435.72 L105.38,435.57 L106.37,435.42 L107.36,435.28 L108.36,435.14 L109.35,435.00 L110.35,434.87 L111.34,434.74 L112.34,434.62 L113.33,434.49 L114.33,434.37 L115.32,434.26 L116.32,434.14 L117.31,434.03 L118.31,433.92 L119.31,433.82 L120.30,433.71 L121.29,433.61 L122.29,433.51 L123.28,433.42 L124.28,433.32 L125.28,433.23 L126.27,433.14 L127.26,433.05 L128.26,432.97 L129.25,432.89 L130.25,432.80 L131.25,432.73 L132.24,432.65 L133.23,432.57 L134.23,432.50 L135.22,432.43 L136.22,432.36 L137.22,432.29 L138.21,432.22 L139.20,432.16 L140.20,432.09 L141.19,432.03 L142.19,431.97 L143.19,431.91 L144.18,431.86 L145.17,431.80 L146.17,431.74 L147.16,431.69 L148.16,431.64 L149.16,431.59 L150.15,431.54 L151.14,431.49 L152.14,431.44 L153.13,431.40 L154.13,431.35 L155.12,431.31 L156.12,431.26 L157.11,431.22 L158.11,431.18 L159.10,431.14 L160.10,431.10 L161.09,431.07 L162.09,431.03 L163.08,430.99 L164.08,430.96 L165.07,430.92 L166.07,430.89 L167.06,430.86 L168.06,430.82 L169.05,430.79 L170.05,430.76 L171.04,430.73 L172.04,430.70 L173.03,430.68 L174.03,430.65 L175.02,430.62 L176.02,430.59 L177.01,430.57 L178.01,430.54 L179.00,430.52 L180.00,430.50 L181.00,430.47 L181.99,430.45 L182.98,430.43 L183.98,430.41 L184.97,430.39 L185.97,430.36 L186.97,430.34 L187.96,430.32 L188.95,430.31 L189.95,430.29 L190.94,430.27 L191.94,430.25 L192.93,430.23 L193.93,430.22 L194.92,430.20 L195.92,430.18 L196.91,430.17 L197.91,430.15 L198.90,430.14 L199.90,430.12 L200.89,430.11 L201.89,430.10 L202.88,430.08 L203.88,430.07 L204.87,430.06 L205.87,430.04 L206.86,430.03 L207.86,430.02 L208.85,430.01 L209.85,430.00 L210.84,429.98 L211.84,429.97 L212.83,429.96 L213.83,429.95 L214.82,429.94 L215.82,429.93 L216.81,429.92 L217.81,429.91 L218.80,429.90 L219.80,429.90 L220.79,429.89 L221.79,429.88 L222.78,429.87 L223.78,429.86 L224.77,429.85 L225.77,429.85 L226.76,429.84 L227.76,429.83 L228.75,429.82 L229.75,429.82 L230.74,429.81 L231.74,429.80 L232.73,429.80 L233.73,429.79 L234.72,429.79 L235.72,429.78 L236.71,429.77 L237.71,429.77 L238.70,429.76 L239.70,429.76 L240.69,429.75 L241.69,429.75 L242.68,429.74 L243.68,429.74 L244.67,429.73 L245.67,429.73 L246.66,429.72 L247.66,429.72 L248.65,429.71 L249.65,429.71 L250.64,429.70 L251.64,429.70 L252.63,429.70 L253.63,429.69 L254.62,429.69 L255.62,429.68 L256.62,429.68 L257.61,429.68 L258.61,429.67 L259.60,429.67" fill="none" stroke="#111" stroke-width="1.85" stroke-linejoin="round" stroke-linecap="butt"/>
<path d="M60.60,447.70 L61.59,447.42 L62.59,447.15 L63.59,446.88 L64.58,446.61 L65.58,446.35 L66.57,446.10 L67.56,445.85 L68.56,445.60 L69.56,445.36 L70.55,445.12 L71.55,444.89 L72.54,444.66 L73.53,444.43 L74.53,444.21 L75.53,443.99 L76.52,443.78 L77.52,443.57 L78.51,443.36 L79.50,443.16 L80.50,442.96 L81.50,442.77 L82.49,442.58 L83.48,442.39 L84.48,442.20 L85.47,442.02 L86.47,441.84 L87.47,441.67 L88.46,441.50 L89.45,441.33 L90.45,441.16 L91.44,441.00 L92.44,440.84 L93.44,440.68 L94.43,440.53 L95.42,440.38 L96.42,440.23 L97.41,440.08 L98.41,439.94 L99.41,439.80 L100.40,439.66 L101.39,439.52 L102.39,439.39 L103.38,439.26 L104.38,439.13 L105.38,439.00 L106.37,438.88 L107.36,438.76 L108.36,438.64 L109.35,438.52 L110.35,438.40 L111.34,438.29 L112.34,438.18 L113.33,438.07 L114.33,437.96 L115.32,437.85 L116.32,437.75 L117.31,437.65 L118.31,437.55 L119.31,437.45 L120.30,437.35 L121.29,437.26 L122.29,437.16 L123.28,437.07 L124.28,436.98 L125.28,436.89 L126.27,436.81 L127.26,436.72 L128.26,436.64 L129.25,436.56 L130.25,436.48 L131.25,436.40 L132.24,436.32 L133.23,436.24 L134.23,436.17 L135.22,436.09 L136.22,436.02 L137.22,435.95 L138.21,435.88 L139.20,435.81 L140.20,435.74 L141.19,435.68 L142.19,435.61 L143.19,435.55 L144.18,435.49 L145.17,435.42 L146.17,435.36 L147.16,435.30 L148.16,435.25 L149.16,435.19 L150.15,435.13 L151.14,435.08 L152.14,435.02 L153.13,434.97 L154.13,434.92 L155.12,434.86 L156.12,434.81 L157.11,434.76 L158.11,434.72 L159.10,434.67 L160.10,434.62 L161.09,434.57 L162.09,434.53 L163.08,434.48 L164.08,434.44 L165.07,434.40 L166.07,434.36 L167.06,434.31 L168.06,434.27 L169.05,434.23 L170.05,434.19 L171.04,434.16 L172.04,434.12 L173.03,434.08 L174.03,434.04 L175.02,434.01 L176.02,433.97 L177.01,433.94 L178.01,433.90 L179.00,433.87 L180.00,433.84 L181.00,433.81 L181.99,433.77 L182.98,433.74 L183.98,433.71 L184.97,433.68 L185.97,433.65 L186.97,433.62 L187.96,433.60 L188.95,433.57 L189.95,433.54 L190.94,433.51 L191.94,433.49 L192.93,433.46 L193.93,433.44 L194.92,433.41 L195.92,433.39 L196.91,433.36 L197.91,433.34 L198.90,433.31 L199.90,433.29 L200.89,433.27 L201.89,433.25 L202.88,433.23 L203.88,433.20 L204.87,433.18 L205.87,433.16 L206.86,433.14 L207.86,433.12 L208.85,433.10 L209.85,433.08 L210.84,433.07 L211.84,433.05 L212.83,433.03 L213.83,433.01 L214.82,432.99 L215.82,432.98 L216.81,432.96 L217.81,432.94 L218.80,432.93 L219.80,432.91 L220.79,432.89 L221.79,432.88 L222.78,432.86 L223.78,432.85 L224.77,432.83 L225.77,432.82 L226.76,432.81 L227.76,432.79 L228.75,432.78 L229.75,432.77 L230.74,432.75 L231.74,432.74 L232.73,432.73 L233.73,432.71 L234.72,432.70 L235.72,432.69 L236.71,432.68 L237.71,432.67 L238.70,432.66 L239.70,432.64 L240.69,432.63 L241.69,432.62 L242.68,432.61 L243.68,432.60 L244.67,432.59 L245.67,432.58 L246.66,432.57 L247.66,432.56 L248.65,432.55 L249.65,432.54 L250.64,432.53 L251.64,432.53 L252.63,432.52 L253.63,432.51 L254.62,432.50 L255.62,432.49 L256.62,432.48 L257.61,432.47 L258.61,432.47 L259.60,432.46" fill="none" stroke="#111" stroke-width="1.85" stroke-linejoin="round" stroke-linecap="butt"/>
<path d="M60.60,447.70 L61.59,447.48 L62.59,447.25 L63.59,447.04 L64.58,446.82 L65.58,446.61 L66.57,446.40 L67.56,446.20 L68.56,445.99 L69.56,445.79 L70.55,445.60 L71.55,445.40 L72.54,445.21 L73.53,445.03 L74.53,444.84 L75.53,444.66 L76.52,444.48 L77.52,444.30 L78.51,444.13 L79.50,443.96 L80.50,443.79 L81.50,443.62 L82.49,443.46 L83.48,443.30 L84.48,443.14 L85.47,442.98 L86.47,442.83 L87.47,442.68 L88.46,442.53 L89.45,442.38 L90.45,442.23 L91.44,442.09 L92.44,441.95 L93.44,441.81 L94.43,441.67 L95.42,441.54 L96.42,441.40 L97.41,441.27 L98.41,441.14 L99.41,441.02 L100.40,440.89 L101.39,440.77 L102.39,440.65 L103.38,440.53 L104.38,440.41 L105.38,440.29 L106.37,440.18 L107.36,440.07 L108.36,439.96 L109.35,439.85 L110.35,439.74 L111.34,439.63 L112.34,439.53 L113.33,439.43 L114.33,439.32 L115.32,439.22 L116.32,439.13 L117.31,439.03 L118.31,438.93 L119.31,438.84 L120.30,438.75 L121.29,438.65 L122.29,438.56 L123.28,438.48 L124.28,438.39 L125.28,438.30 L126.27,438.22 L127.26,438.13 L128.26,438.05 L129.25,437.97 L130.25,437.89 L131.25,437.81 L132.24,437.74 L133.23,437.66 L134.23,437.58 L135.22,437.51 L136.22,437.44 L137.22,437.37 L138.21,437.29 L139.20,437.22 L140.20,437.16 L141.19,437.09 L142.19,437.02 L143.19,436.96 L144.18,436.89 L145.17,436.83 L146.17,436.76 L147.16,436.70 L148.16,436.64 L149.16,436.58 L150.15,436.52 L151.14,436.46 L152.14,436.41 L153.13,436.35 L154.13,436.30 L155.12,436.24 L156.12,436.19 L157.11,436.13 L158.11,436.08 L159.10,436.03 L160.10,435.98 L161.09,435.93 L162.09,435.88 L163.08,435.83 L164.08,435.78 L165.07,435.73 L166.07,435.69 L167.06,435.64 L168.06,435.60 L169.05,435.55 L170.05,435.51 L171.04,435.47 L172.04,435.42 L173.03,435.38 L174.03,435.34 L175.02,435.30 L176.02,435.26 L177.01,435.22 L178.01,435.18 L179.00,435.14 L180.00,435.11 L181.00,435.07 L181.99,435.03 L182.98,435.00 L183.98,434.96 L184.97,434.93 L185.97,434.89 L186.97,434.86 L187.96,434.82 L188.95,434.79 L189.95,434.76 L190.94,434.73 L191.94,434.69 L192.93,434.66 L193.93,434.63 L194.92,434.60 L195.92,434.57 L196.91,434.54 L197.91,434.52 L198.90,434.49 L199.90,434.46 L200.89,434.43 L201.89,434.40 L202.88,434.38 L203.88,434.35 L204.87,434.33 L205.87,434.30 L206.86,434.27 L207.86,434.25 L208.85,434.23 L209.85,434.20 L210.84,434.18 L211.84,434.15 L212.83,434.13 L213.83,434.11 L214.82,434.09 L215.82,434.06 L216.81,434.04 L217.81,434.02 L218.80,434.00 L219.80,433.98 L220.79,433.96 L221.79,433.94 L222.78,433.92 L223.78,433.90 L224.77,433.88 L225.77,433.86 L226.76,433.84 L227.76,433.83 L228.75,433.81 L229.75,433.79 L230.74,433.77 L231.74,433.75 L232.73,433.74 L233.73,433.72 L234.72,433.70 L235.72,433.69 L236.71,433.67 L237.71,433.66 L238.70,433.64 L239.70,433.63 L240.69,433.61 L241.69,433.60 L242.68,433.58 L243.68,433.57 L244.67,433.55 L245.67,433.54 L246.66,433.52 L247.66,433.51 L248.65,433.50 L249.65,433.48 L250.64,433.47 L251.64,433.46 L252.63,433.45 L253.63,433.43 L254.62,433.42 L255.62,433.41 L256.62,433.40 L257.61,433.39 L258.61,433.37 L259.60,433.36" fill="none" stroke="#111" stroke-width="1.85" stroke-linejoin="round" stroke-linecap="butt"/>
<path d="M60.60,447.70 L61.59,447.45 L62.59,447.21 L63.59,446.98 L64.58,446.75 L65.58,446.52 L66.57,446.30 L67.56,446.08 L68.56,445.86 L69.56,445.65 L70.55,445.45 L71.55,445.25 L72.54,445.05 L73.53,444.86 L74.53,444.67 L75.53,444.48 L76.52,444.30 L77.52,444.12 L78.51,443.95 L79.50,443.77 L80.50,443.61 L81.50,443.44 L82.49,443.28 L83.48,443.12 L84.48,442.97 L85.47,442.81 L86.47,442.66 L87.47,442.52 L88.46,442.37 L89.45,442.23 L90.45,442.10 L91.44,441.96 L92.44,441.83 L93.44,441.70 L94.43,441.57 L95.42,441.45 L96.42,441.33 L97.41,441.21 L98.41,441.09 L99.41,440.97 L100.40,440.86 L101.39,440.75 L102.39,440.64 L103.38,440.54 L104.38,440.43 L105.38,440.33 L106.37,440.23 L107.36,440.13 L108.36,440.04 L109.35,439.94 L110.35,439.85 L111.34,439.76 L112.34,439.67 L113.33,439.58 L114.33,439.50 L115.32,439.41 L116.32,439.33 L117.31,439.25 L118.31,439.17 L119.31,439.10 L120.30,439.02 L121.29,438.95 L122.29,438.87 L123.28,438.80 L124.28,438.73 L125.28,438.67 L126.27,438.60 L127.26,438.53 L128.26,438.47 L129.25,438.41 L130.25,438.34 L131.25,438.28 L132.24,438.22 L133.23,438.17 L134.23,438.11 L135.22,438.05 L136.22,438.00 L137.22,437.94 L138.21,437.89 L139.20,437.84 L140.20,437.79 L141.19,437.74 L142.19,437.69 L143.19,437.64 L144.18,437.60 L145.17,437.55 L146.17,437.50 L147.16,437.46 L148.16,437.42 L149.16,437.38 L150.15,437.33 L151.14,437.29 L152.14,437.25 L153.13,437.21 L154.13,437.18 L155.12,437.14 L156.12,437.10 L157.11,437.07 L158.11,437.03 L159.10,437.00 L160.10,436.96 L161.09,436.93 L162.09,436.90 L163.08,436.86 L164.08,436.83 L165.07,436.80 L166.07,436.77 L167.06,436.74 L168.06,436.71 L169.05,436.68 L170.05,436.66 L171.04,436.63 L172.04,436.60 L173.03,436.58 L174.03,436.55 L175.02,436.53 L176.02,436.50 L177.01,436.48 L178.01,436.45 L179.00,436.43 L180.00,436.41 L181.00,436.39 L181.99,436.36 L182.98,436.34 L183.98,436.32 L184.97,436.30 L185.97,436.28 L186.97,436.26 L187.96,436.24 L188.95,436.22 L189.95,436.20 L190.94,436.19 L191.94,436.17 L192.93,436.15 L193.93,436.13 L194.92,436.12 L195.92,436.10 L196.91,436.08 L197.91,436.07 L198.90,436.05 L199.90,436.04 L200.89,436.02 L201.89,436.01 L202.88,435.99 L203.88,435.98 L204.87,435.96 L205.87,435.95 L206.86,435.94 L207.86,435.92 L208.85,435.91 L209.85,435.90 L210.84,435.89 L211.84,435.87 L212.83,435.86 L213.83,435.85 L214.82,435.84 L215.82,435.83 L216.81,435.82 L217.81,435.81 L218.80,435.80 L219.80,435.79 L220.79,435.78 L221.79,435.77 L222.78,435.76 L223.78,435.75 L224.77,435.74 L225.77,435.73 L226.76,435.72 L227.76,435.71 L228.75,435.70 L229.75,435.70 L230.74,435.69 L231.74,435.68 L232.73,435.67 L233.73,435.66 L234.72,435.66 L235.72,435.65 L236.71,435.64 L237.71,435.63 L238.70,435.63 L239.70,435.62 L240.69,435.61 L241.69,435.61 L242.68,435.60 L243.68,435.59 L244.67,435.59 L245.67,435.58 L246.66,435.58 L247.66,435.57 L248.65,435.56 L249.65,435.56 L250.64,435.55 L251.64,435.55 L252.63,435.54 L253.63,435.54 L254.62,435.53 L255.62,435.53 L256.62,435.52 L257.61,435.52 L258.61,435.51 L259.60,435.51" fill="none" stroke="#111" stroke-width="1.85" stroke-linejoin="round" stroke-linecap="butt"/>
<path d="M60.60,447.70 L61.59,447.50 L62.59,447.31 L63.59,447.12 L64.58,446.94 L65.58,446.76 L66.57,446.58 L67.56,446.41 L68.56,446.25 L69.56,446.09 L70.55,445.93 L71.55,445.77 L72.54,445.62 L73.53,445.48 L74.53,445.33 L75.53,445.20 L76.52,445.06 L77.52,444.93 L78.51,444.80 L79.50,444.67 L80.50,444.55 L81.50,444.43 L82.49,444.31 L83.48,444.20 L84.48,444.09 L85.47,443.98 L86.47,443.87 L87.47,443.77 L88.46,443.67 L89.45,443.57 L90.45,443.47 L91.44,443.38 L92.44,443.29 L93.44,443.20 L94.43,443.11 L95.42,443.03 L96.42,442.95 L97.41,442.87 L98.41,442.79 L99.41,442.71 L100.40,442.64 L101.39,442.56 L102.39,442.49 L103.38,442.42 L104.38,442.36 L105.38,442.29 L106.37,442.23 L107.36,442.16 L108.36,442.10 L109.35,442.04 L110.35,441.99 L111.34,441.93 L112.34,441.87 L113.33,441.82 L114.33,441.77 L115.32,441.72 L116.32,441.67 L117.31,441.62 L118.31,441.57 L119.31,441.52 L120.30,441.48 L121.29,441.43 L122.29,441.39 L123.28,441.35 L124.28,441.31 L125.28,441.27 L126.27,441.23 L127.26,441.19 L128.26,441.15 L129.25,441.12 L130.25,441.08 L131.25,441.05 L132.24,441.02 L133.23,440.98 L134.23,440.95 L135.22,440.92 L136.22,440.89 L137.22,440.86 L138.21,440.83 L139.20,440.80 L140.20,440.78 L141.19,440.75 L142.19,440.72 L143.19,440.70 L144.18,440.67 L145.17,440.65 L146.17,440.62 L147.16,440.60 L148.16,440.58 L149.16,440.56 L150.15,440.54 L151.14,440.51 L152.14,440.49 L153.13,440.47 L154.13,440.46 L155.12,440.44 L156.12,440.42 L157.11,440.40 L158.11,440.38 L159.10,440.37 L160.10,440.35 L161.09,440.33 L162.09,440.32 L163.08,440.30 L164.08,440.29 L165.07,440.27 L166.07,440.26 L167.06,440.24 L168.06,440.23 L169.05,440.22 L170.05,440.20 L171.04,440.19 L172.04,440.18 L173.03,440.17 L174.03,440.15 L175.02,440.14 L176.02,440.13 L177.01,440.12 L178.01,440.11 L179.00,440.10 L180.00,440.09 L181.00,440.08 L181.99,440.07 L182.98,440.06 L183.98,440.05 L184.97,440.04 L185.97,440.03 L186.97,440.03 L187.96,440.02 L188.95,440.01 L189.95,440.00 L190.94,439.99 L191.94,439.99 L192.93,439.98 L193.93,439.97 L194.92,439.97 L195.92,439.96 L196.91,439.95 L197.91,439.95 L198.90,439.94 L199.90,439.93 L200.89,439.93 L201.89,439.92 L202.88,439.92 L203.88,439.91 L204.87,439.90 L205.87,439.90 L206.86,439.89 L207.86,439.89 L208.85,439.88 L209.85,439.88 L210.84,439.88 L211.84,439.87 L212.83,439.87 L213.83,439.86 L214.82,439.86 L215.82,439.85 L216.81,439.85 L217.81,439.85 L218.80,439.84 L219.80,439.84 L220.79,439.83 L221.79,439.83 L222.78,439.83 L223.78,439.82 L224.77,439.82 L225.77,439.82 L226.76,439.81 L227.76,439.81 L228.75,439.81 L229.75,439.81 L230.74,439.80 L231.74,439.80 L232.73,439.80 L233.73,439.79 L234.72,439.79 L235.72,439.79 L236.71,439.79 L237.71,439.78 L238.70,439.78 L239.70,439.78 L240.69,439.78 L241.69,439.78 L242.68,439.77 L243.68,439.77 L244.67,439.77 L245.67,439.77 L246.66,439.77 L247.66,439.76 L248.65,439.76 L249.65,439.76 L250.64,439.76 L251.64,439.76 L252.63,439.76 L253.63,439.75 L254.62,439.75 L255.62,439.75 L256.62,439.75 L257.61,439.75 L258.61,439.75 L259.60,439.75" fill="none" stroke="#111" stroke-width="1.85" stroke-linejoin="round" stroke-linecap="butt"/>
<text x="261.80" y="386.50" font-size="11.4" text-anchor="middle" fill="#222" stroke="#222" stroke-width="0.22" >100 - 1800</text>
<text x="260.80" y="400.10" font-size="11.3" text-anchor="middle" fill="#222" stroke="#222" stroke-width="0.22" >nM SIN1</text>
<text transform="translate(339.90,20.00) scale(0.93,1)" font-size="16" fill="#222" stroke="#222" stroke-width="0.22">B</text>
<line x1="386.90" y1="29.50" x2="386.90" y2="205.20" stroke="#111" stroke-width="1.8"/>
<line x1="386.00" y1="204.30" x2="586.50" y2="204.30" stroke="#111" stroke-width="1.8"/>
<line x1="386.90" y1="204.30" x2="386.90" y2="208.70" stroke="#111" stroke-width="1.62"/>
<line x1="436.57" y1="204.30" x2="436.57" y2="208.70" stroke="#111" stroke-width="1.62"/>
<line x1="486.25" y1="204.30" x2="486.25" y2="208.70" stroke="#111" stroke-width="1.62"/>
<line x1="535.92" y1="204.30" x2="535.92" y2="208.70" stroke="#111" stroke-width="1.62"/>
<line x1="585.60" y1="204.30" x2="585.60" y2="208.70" stroke="#111" stroke-width="1.62"/>
<line x1="382.50" y1="204.30" x2="386.90" y2="204.30" stroke="#111" stroke-width="1.62"/>
<line x1="382.50" y1="175.32" x2="386.90" y2="175.32" stroke="#111" stroke-width="1.62"/>
<line x1="382.50" y1="146.33" x2="386.90" y2="146.33" stroke="#111" stroke-width="1.62"/>
<line x1="382.50" y1="117.35" x2="386.90" y2="117.35" stroke="#111" stroke-width="1.62"/>
<line x1="382.50" y1="88.37" x2="386.90" y2="88.37" stroke="#111" stroke-width="1.62"/>
<line x1="382.50" y1="59.38" x2="386.90" y2="59.38" stroke="#111" stroke-width="1.62"/>
<line x1="382.50" y1="30.40" x2="386.90" y2="30.40" stroke="#111" stroke-width="1.62"/>
<text x="386.90" y="226.00" font-size="12.6" text-anchor="middle" fill="#222" stroke="#222" stroke-width="0.22" >0</text>
<text x="436.57" y="226.00" font-size="12.6" text-anchor="middle" fill="#222" stroke="#222" stroke-width="0.22" >200</text>
<text x="486.25" y="226.00" font-size="12.6" text-anchor="middle" fill="#222" stroke="#222" stroke-width="0.22" >400</text>
<text x="535.92" y="226.00" font-size="12.6" text-anchor="middle" fill="#222" stroke="#222" stroke-width="0.22" >600</text>
<text x="585.60" y="226.00" font-size="12.6" text-anchor="middle" fill="#222" stroke="#222" stroke-width="0.22" >800</text>
<text x="376.40" y="208.75" font-size="12.6" text-anchor="end" fill="#222" stroke="#222" stroke-width="0.22" >0</text>
<text x="376.40" y="179.77" font-size="12.6" text-anchor="end" fill="#222" stroke="#222" stroke-width="0.22" >50</text>
<text x="376.40" y="150.78" font-size="12.6" text-anchor="end" fill="#222" stroke="#222" stroke-width="0.22" >100</text>
<text x="376.40" y="121.80" font-size="12.6" text-anchor="end" fill="#222" stroke="#222" stroke-width="0.22" >150</text>
<text x="376.40" y="92.82" font-size="12.6" text-anchor="end" fill="#222" stroke="#222" stroke-width="0.22" >200</text>
<text x="376.40" y="63.83" font-size="12.6" text-anchor="end" fill="#222" stroke="#222" stroke-width="0.22" >250</text>
<text x="376.40" y="34.85" font-size="12.6" text-anchor="end" fill="#222" stroke="#222" stroke-width="0.22" >300</text>
<text transform="translate(342.90,117.20) rotate(-90)" font-size="12.6" text-anchor="middle" fill="#222" stroke="#222" stroke-width="0.22">Response (AU)</text>
<path d="M386.90,204.30 L387.40,201.82 L387.89,199.41 L388.39,197.06 L388.89,194.78 L389.38,192.55 L389.88,190.39 L390.38,188.28 L390.87,186.22 L391.37,184.22 L391.87,182.27 L392.36,180.36 L392.86,178.50 L393.36,176.68 L393.85,174.91 L394.35,173.18 L394.85,171.49 L395.34,169.84 L395.84,168.22 L396.34,166.64 L396.83,165.10 L397.33,163.59 L397.83,162.11 L398.33,160.67 L398.82,159.25 L399.32,157.87 L399.82,156.51 L400.31,155.18 L400.81,153.88 L401.31,152.60 L401.80,151.35 L402.30,150.13 L402.80,148.92 L403.29,147.74 L403.79,146.59 L404.29,145.45 L404.78,144.34 L405.28,143.25 L405.78,142.18 L406.27,141.12 L406.77,140.09 L407.27,139.08 L407.76,138.08 L408.26,137.10 L408.76,136.14 L409.25,135.19 L409.75,134.26 L410.25,133.35 L410.74,132.45 L411.24,131.57 L411.74,130.70 L412.23,129.85 L412.73,129.00 L413.23,128.18 L413.72,127.36 L414.22,126.56 L414.72,125.78 L415.21,125.00 L415.71,124.24 L416.21,123.49 L416.70,122.75 L417.20,122.02 L417.70,121.30 L418.20,120.59 L418.69,119.90 L419.19,119.21 L419.69,118.53 L420.18,117.87 L420.68,117.21 L421.18,116.56 L421.67,115.93 L422.17,115.30 L422.67,114.68 L423.16,114.07 L423.66,113.46 L424.16,112.87 L424.65,112.28 L425.15,111.70 L425.65,111.13 L426.14,110.57 L426.64,110.01 L427.14,109.46 L427.63,108.92 L428.13,108.39 L428.63,107.86 L429.12,107.34 L429.62,106.83 L430.12,106.32 L430.61,105.82 L431.11,105.32 L431.61,104.84 L432.10,104.35 L432.60,103.88 L433.10,103.41 L433.59,102.94 L434.09,102.48 L434.59,102.03 L435.08,101.58 L435.58,101.14 L436.08,100.70 L436.57,100.27 L437.07,99.84 L437.57,99.42 L438.07,99.00 L438.56,98.58 L439.06,98.18 L439.56,97.77 L440.05,97.37 L440.55,96.98 L441.05,96.59 L441.54,96.20 L442.04,95.82 L442.54,95.44 L443.03,95.07 L443.53,94.70 L444.03,94.34 L444.52,93.97 L445.02,93.62 L445.52,93.26 L446.01,92.91 L446.51,92.57 L447.01,92.22 L447.50,91.88 L448.00,91.55 L448.50,91.22 L448.99,90.89 L449.49,90.56 L449.99,90.24 L450.48,89.92 L450.98,89.60 L451.48,89.29 L451.97,88.98 L452.47,88.68 L452.97,88.37 L453.46,88.07 L453.96,87.77 L454.46,87.48 L454.95,87.19 L455.45,86.90 L455.95,86.61 L456.44,86.33 L456.94,86.05 L457.44,85.77 L457.94,85.49 L458.43,85.22 L458.93,84.95 L459.43,84.68 L459.92,84.42 L460.42,84.15 L460.92,83.89 L461.41,83.63 L461.91,83.38 L462.41,83.12 L462.90,82.87 L463.40,82.62 L463.90,82.38 L464.39,82.13 L464.89,81.89 L465.39,81.65 L465.88,81.41 L466.38,81.17 L466.88,80.94 L467.37,80.71 L467.87,80.48 L468.37,80.25 L468.86,80.02 L469.36,79.80 L469.86,79.58 L470.35,79.35 L470.85,79.14 L471.35,78.92 L471.84,78.70 L472.34,78.49 L472.84,78.28 L473.33,78.07 L473.83,77.86 L474.33,77.65 L474.82,77.45 L475.32,77.24 L475.82,77.04 L476.31,76.84 L476.81,76.64 L477.31,76.45 L477.81,76.25 L478.30,76.06 L478.80,75.87 L479.30,75.68 L479.79,75.49 L480.29,75.30 L480.79,75.11 L481.28,74.93 L481.78,74.74 L482.28,74.56 L482.77,74.38 L483.27,74.20 L483.77,74.02 L484.26,73.85 L484.76,73.67 L485.26,73.50 L485.75,73.32 L486.25,73.15 L486.75,72.98 L487.24,72.81 L487.74,72.64 L488.24,72.48 L488.73,72.31 L489.23,72.15 L489.73,71.99 L490.22,71.82 L490.72,71.66 L491.22,71.50 L491.71,71.35 L492.21,71.19 L492.71,71.03 L493.20,70.88 L493.70,70.72 L494.20,70.57 L494.69,70.42 L495.19,70.27 L495.69,70.12 L496.19,69.97 L496.68,69.82 L497.18,69.67 L497.68,69.53 L498.17,69.38 L498.67,69.24 L499.17,69.10 L499.66,68.96 L500.16,68.82 L500.66,68.68 L501.15,68.54 L501.65,68.40 L502.15,68.26 L502.64,68.13 L503.14,67.99 L503.64,67.86 L504.13,67.72 L504.63,67.59 L505.13,67.46 L505.62,67.33 L506.12,67.20 L506.62,67.07 L507.11,66.94 L507.61,66.81 L508.11,66.68 L508.60,66.56 L509.10,66.43 L509.60,66.31 L510.09,66.18 L510.59,66.06 L511.09,65.94 L511.58,65.82 L512.08,65.70 L512.58,65.58 L513.07,65.46 L513.57,65.34 L514.07,65.22 L514.56,65.11 L515.06,64.99 L515.56,64.87 L516.06,64.76 L516.55,64.64 L517.05,64.53 L517.55,64.42 L518.04,64.31 L518.54,64.20 L519.04,64.08 L519.53,63.97 L520.03,63.86 L520.53,63.76 L521.02,63.65 L521.52,63.54 L522.02,63.43 L522.51,63.33 L523.01,63.22 L523.51,63.12 L524.00,63.01 L524.50,62.91 L525.00,62.80 L525.49,62.70 L525.99,62.60 L526.49,62.50 L526.98,62.40 L527.48,62.30 L527.98,62.20 L528.47,62.10 L528.97,62.00 L529.47,61.90 L529.96,61.80 L530.46,61.71 L530.96,61.61 L531.45,61.51 L531.95,61.42 L532.45,61.32 L532.94,61.23 L533.44,61.14 L533.94,61.04 L534.43,60.95 L534.93,60.86 L535.43,60.77 L535.92,60.67 L536.42,60.58 L536.92,60.49 L537.42,60.40 L537.91,60.31 L538.41,60.22 L538.91,60.14 L539.40,60.05 L539.90,59.96 L540.40,59.87 L540.89,59.79 L541.39,59.70 L541.89,59.62 L542.38,59.53 L542.88,59.45 L543.38,59.36 L543.87,59.28 L544.37,59.19 L544.87,59.11 L545.36,59.03 L545.86,58.95 L546.36,58.86 L546.85,58.78 L547.35,58.70 L547.85,58.62 L548.34,58.54 L548.84,58.46 L549.34,58.38 L549.83,58.30 L550.33,58.22 L550.83,58.15 L551.32,58.07 L551.82,57.99 L552.32,57.91 L552.81,57.84 L553.31,57.76 L553.81,57.68 L554.30,57.61 L554.80,57.53 L555.30,57.46 L555.80,57.39 L556.29,57.31 L556.79,57.24 L557.29,57.16 L557.78,57.09 L558.28,57.02 L558.78,56.95 L559.27,56.87 L559.77,56.80 L560.27,56.73 L560.76,56.66" fill="none" stroke="#111" stroke-width="1.7" stroke-linejoin="round" stroke-linecap="butt"/>
<circle cx="386.90" cy="204.30" r="3.3" fill="#0a0a0a"/>
<circle cx="393.11" cy="177.06" r="3.3" fill="#0a0a0a"/>
<circle cx="399.32" cy="155.03" r="3.3" fill="#0a0a0a"/>
<circle cx="409.25" cy="145.17" r="3.3" fill="#0a0a0a"/>
<circle cx="417.95" cy="116.19" r="3.3" fill="#0a0a0a"/>
<circle cx="436.57" cy="97.64" r="3.3" fill="#0a0a0a"/>
<circle cx="480.04" cy="77.35" r="3.3" fill="#0a0a0a"/>
<circle cx="535.92" cy="63.44" r="3.3" fill="#0a0a0a"/>
<circle cx="560.76" cy="55.91" r="3.3" fill="#0a0a0a"/>
<text x="399.50" y="38.30" font-size="11" text-anchor="start" fill="#222" stroke="#222" stroke-width="0.22" >Kd =</text>
<text x="394.20" y="52.20" font-size="11.2" text-anchor="start" fill="#222" stroke="#222" stroke-width="0.22" >141 nM</text>
<text x="432.7" y="250.6" font-size="12.5" fill="#222" stroke="#222" stroke-width="0.22">[Ptd(3,4,5)<tspan font-style="italic">P</tspan><tspan dy="5.2" font-size="13.6">3</tspan><tspan dy="-5.2" dx="-0.6">] (nM)</tspan></text>
<text transform="translate(316.20,267.25) scale(0.87,1)" font-size="16.4" font-weight="bold" fill="#222" stroke="#222" stroke-width="0.22">D</text>
<line x1="383.30" y1="268.50" x2="383.30" y2="444.60" stroke="#111" stroke-width="1.8"/>
<line x1="382.40" y1="443.70" x2="582.80" y2="443.70" stroke="#111" stroke-width="1.8"/>
<line x1="383.30" y1="443.70" x2="383.30" y2="448.10" stroke="#111" stroke-width="1.62"/>
<line x1="432.95" y1="443.70" x2="432.95" y2="448.10" stroke="#111" stroke-width="1.62"/>
<line x1="482.60" y1="443.70" x2="482.60" y2="448.10" stroke="#111" stroke-width="1.62"/>
<line x1="532.25" y1="443.70" x2="532.25" y2="448.10" stroke="#111" stroke-width="1.62"/>
<line x1="581.90" y1="443.70" x2="581.90" y2="448.10" stroke="#111" stroke-width="1.62"/>
<line x1="378.90" y1="443.70" x2="383.30" y2="443.70" stroke="#111" stroke-width="1.62"/>
<line x1="378.90" y1="400.12" x2="383.30" y2="400.12" stroke="#111" stroke-width="1.62"/>
<line x1="378.90" y1="356.55" x2="383.30" y2="356.55" stroke="#111" stroke-width="1.62"/>
<line x1="378.90" y1="312.98" x2="383.30" y2="312.98" stroke="#111" stroke-width="1.62"/>
<line x1="378.90" y1="269.40" x2="383.30" y2="269.40" stroke="#111" stroke-width="1.62"/>
<text x="383.30" y="464.90" font-size="12.6" text-anchor="middle" fill="#222" stroke="#222" stroke-width="0.22" >0</text>
<text x="432.95" y="464.90" font-size="12.6" text-anchor="middle" fill="#222" stroke="#222" stroke-width="0.22" >500</text>
<text x="482.60" y="464.90" font-size="12.6" text-anchor="middle" fill="#222" stroke="#222" stroke-width="0.22" >1000</text>
<text x="532.25" y="464.90" font-size="12.6" text-anchor="middle" fill="#222" stroke="#222" stroke-width="0.22" >1500</text>
<text x="581.90" y="464.90" font-size="12.6" text-anchor="middle" fill="#222" stroke="#222" stroke-width="0.22" >2000</text>
<text x="372.80" y="448.15" font-size="12.6" text-anchor="end" fill="#222" stroke="#222" stroke-width="0.22" >0</text>
<text x="372.80" y="404.57" font-size="12.6" text-anchor="end" fill="#222" stroke="#222" stroke-width="0.22" >20</text>
<text x="372.80" y="361.00" font-size="12.6" text-anchor="end" fill="#222" stroke="#222" stroke-width="0.22" >40</text>
<text x="372.80" y="317.43" font-size="12.6" text-anchor="end" fill="#222" stroke="#222" stroke-width="0.22" >60</text>
<text x="372.80" y="273.85" font-size="12.6" text-anchor="end" fill="#222" stroke="#222" stroke-width="0.22" >80</text>
<text transform="translate(347.00,356.70) rotate(-90)" font-size="12.6" text-anchor="middle" fill="#222" stroke="#222" stroke-width="0.22">Response Units</text>
<path d="M383.30,443.70 L383.80,441.99 L384.29,440.31 L384.79,438.65 L385.29,437.02 L385.78,435.42 L386.28,433.84 L386.78,432.29 L387.27,430.76 L387.77,429.26 L388.26,427.78 L388.76,426.32 L389.26,424.88 L389.75,423.47 L390.25,422.08 L390.75,420.70 L391.24,419.35 L391.74,418.02 L392.24,416.70 L392.73,415.41 L393.23,414.13 L393.73,412.87 L394.22,411.63 L394.72,410.41 L395.22,409.20 L395.71,408.01 L396.21,406.84 L396.71,405.68 L397.20,404.54 L397.70,403.42 L398.19,402.30 L398.69,401.21 L399.19,400.12 L399.68,399.06 L400.18,398.00 L400.68,396.96 L401.17,395.94 L401.67,394.92 L402.17,393.92 L402.66,392.93 L403.16,391.95 L403.66,390.99 L404.15,390.04 L404.65,389.10 L405.15,388.17 L405.64,387.25 L406.14,386.34 L406.64,385.45 L407.13,384.56 L407.63,383.69 L408.12,382.82 L408.62,381.97 L409.12,381.12 L409.61,380.29 L410.11,379.46 L410.61,378.65 L411.10,377.84 L411.60,377.05 L412.10,376.26 L412.59,375.48 L413.09,374.71 L413.59,373.94 L414.08,373.19 L414.58,372.44 L415.08,371.71 L415.57,370.98 L416.07,370.26 L416.57,369.54 L417.06,368.83 L417.56,368.14 L418.06,367.44 L418.55,366.76 L419.05,366.08 L419.54,365.41 L420.04,364.75 L420.54,364.09 L421.03,363.44 L421.53,362.80 L422.03,362.16 L422.52,361.53 L423.02,360.91 L423.52,360.29 L424.01,359.68 L424.51,359.07 L425.01,358.47 L425.50,357.88 L426.00,357.29 L426.50,356.71 L426.99,356.13 L427.49,355.56 L427.99,354.99 L428.48,354.43 L428.98,353.88 L429.47,353.33 L429.97,352.78 L430.47,352.24 L430.96,351.71 L431.46,351.18 L431.96,350.65 L432.45,350.13 L432.95,349.62 L433.45,349.11 L433.94,348.60 L434.44,348.10 L434.94,347.60 L435.43,347.11 L435.93,346.62 L436.43,346.14 L436.92,345.66 L437.42,345.18 L437.92,344.71 L438.41,344.24 L438.91,343.78 L439.40,343.32 L439.90,342.86 L440.40,342.41 L440.89,341.96 L441.39,341.52 L441.89,341.08 L442.38,340.64 L442.88,340.21 L443.38,339.78 L443.87,339.35 L444.37,338.93 L444.87,338.51 L445.36,338.10 L445.86,337.69 L446.36,337.28 L446.85,336.87 L447.35,336.47 L447.85,336.07 L448.34,335.67 L448.84,335.28 L449.33,334.89 L449.83,334.51 L450.33,334.12 L450.82,333.74 L451.32,333.36 L451.82,332.99 L452.31,332.62 L452.81,332.25 L453.31,331.88 L453.80,331.52 L454.30,331.16 L454.80,330.80 L455.29,330.45 L455.79,330.09 L456.29,329.74 L456.78,329.40 L457.28,329.05 L457.77,328.71 L458.27,328.37 L458.77,328.03 L459.26,327.70 L459.76,327.37 L460.26,327.04 L460.75,326.71 L461.25,326.39 L461.75,326.06 L462.24,325.74 L462.74,325.42 L463.24,325.11 L463.73,324.80 L464.23,324.48 L464.73,324.18 L465.22,323.87 L465.72,323.56 L466.22,323.26 L466.71,322.96 L467.21,322.66 L467.70,322.37 L468.20,322.07 L468.70,321.78 L469.19,321.49 L469.69,321.20 L470.19,320.91 L470.68,320.63 L471.18,320.35 L471.68,320.07 L472.17,319.79 L472.67,319.51 L473.17,319.24 L473.66,318.96 L474.16,318.69 L474.66,318.42 L475.15,318.15 L475.65,317.89 L476.15,317.62 L476.64,317.36 L477.14,317.10 L477.63,316.84 L478.13,316.58 L478.63,316.33 L479.12,316.07 L479.62,315.82 L480.12,315.57 L480.61,315.32 L481.11,315.07 L481.61,314.82 L482.10,314.58 L482.60,314.34 L483.10,314.09 L483.59,313.85 L484.09,313.62 L484.59,313.38 L485.08,313.14 L485.58,312.91 L486.08,312.68 L486.57,312.44 L487.07,312.21 L487.56,311.98 L488.06,311.76 L488.56,311.53 L489.05,311.31 L489.55,311.08 L490.05,310.86 L490.54,310.64 L491.04,310.42 L491.54,310.20 L492.03,309.99 L492.53,309.77 L493.03,309.56 L493.52,309.34 L494.02,309.13 L494.52,308.92 L495.01,308.71 L495.51,308.50 L496.01,308.30 L496.50,308.09 L497.00,307.89 L497.50,307.68 L497.99,307.48 L498.49,307.28 L498.98,307.08 L499.48,306.88 L499.98,306.68 L500.47,306.49 L500.97,306.29 L501.47,306.10 L501.96,305.90 L502.46,305.71 L502.96,305.52 L503.45,305.33 L503.95,305.14 L504.45,304.95 L504.94,304.77 L505.44,304.58 L505.94,304.40 L506.43,304.21 L506.93,304.03 L507.43,303.85 L507.92,303.67 L508.42,303.49 L508.91,303.31 L509.41,303.13 L509.91,302.95 L510.40,302.78 L510.90,302.60 L511.40,302.43 L511.89,302.25 L512.39,302.08 L512.89,301.91 L513.38,301.74 L513.88,301.57 L514.38,301.40 L514.87,301.23 L515.37,301.07 L515.87,300.90 L516.36,300.73 L516.86,300.57 L517.36,300.41 L517.85,300.24 L518.35,300.08 L518.84,299.92 L519.34,299.76 L519.84,299.60 L520.33,299.44 L520.83,299.28 L521.33,299.13 L521.82,298.97 L522.32,298.81 L522.82,298.66 L523.31,298.50 L523.81,298.35 L524.31,298.20 L524.80,298.05 L525.30,297.90 L525.80,297.75 L526.29,297.60 L526.79,297.45 L527.28,297.30 L527.78,297.15 L528.28,297.00 L528.77,296.86 L529.27,296.71 L529.77,296.57 L530.26,296.42 L530.76,296.28 L531.26,296.14 L531.75,296.00 L532.25,295.86 L532.75,295.72 L533.24,295.58 L533.74,295.44 L534.24,295.30 L534.73,295.16 L535.23,295.02 L535.73,294.89 L536.22,294.75 L536.72,294.62 L537.21,294.48 L537.71,294.35 L538.21,294.21 L538.70,294.08 L539.20,293.95 L539.70,293.82 L540.19,293.69 L540.69,293.56 L541.19,293.43 L541.68,293.30 L542.18,293.17 L542.68,293.04 L543.17,292.91 L543.67,292.79 L544.17,292.66 L544.66,292.53 L545.16,292.41 L545.66,292.28 L546.15,292.16 L546.65,292.04 L547.14,291.91 L547.64,291.79 L548.14,291.67 L548.63,291.55 L549.13,291.43 L549.63,291.31 L550.12,291.19 L550.62,291.07 L551.12,290.95 L551.61,290.83 L552.11,290.71 L552.61,290.60 L553.10,290.48 L553.60,290.36 L554.10,290.25 L554.59,290.13 L555.09,290.02 L555.59,289.90 L556.08,289.79 L556.58,289.68 L557.08,289.57 L557.57,289.45 L558.07,289.34 L558.56,289.23 L559.06,289.12 L559.56,289.01 L560.05,288.90 L560.55,288.79 L561.05,288.68 L561.54,288.57 L562.04,288.46" fill="none" stroke="#111" stroke-width="1.7" stroke-linejoin="round" stroke-linecap="butt"/>
<circle cx="383.30" cy="443.70" r="3.3" fill="#0a0a0a"/>
<circle cx="393.23" cy="413.20" r="3.3" fill="#0a0a0a"/>
<circle cx="403.16" cy="397.95" r="3.3" fill="#0a0a0a"/>
<circle cx="408.12" cy="387.05" r="3.3" fill="#0a0a0a"/>
<circle cx="413.09" cy="376.16" r="3.3" fill="#0a0a0a"/>
<circle cx="432.95" cy="345.66" r="3.3" fill="#0a0a0a"/>
<circle cx="502.46" cy="304.26" r="3.3" fill="#0a0a0a"/>
<circle cx="562.04" cy="291.19" r="3.3" fill="#0a0a0a"/>
<text x="399.90" y="279.90" font-size="11" text-anchor="start" fill="#222" stroke="#222" stroke-width="0.22" >Kd =</text>
<text x="394.20" y="294.20" font-size="11.2" text-anchor="start" fill="#222" stroke="#222" stroke-width="0.22" >629 nM</text>
<text x="426.9" y="488.4" font-size="12.5" fill="#222" stroke="#222" stroke-width="0.22">[PtdIns(4,5)P<tspan dy="5" font-size="13.5">2</tspan><tspan dy="-5">] (nM)</tspan></text>
</svg>
</body></html>
